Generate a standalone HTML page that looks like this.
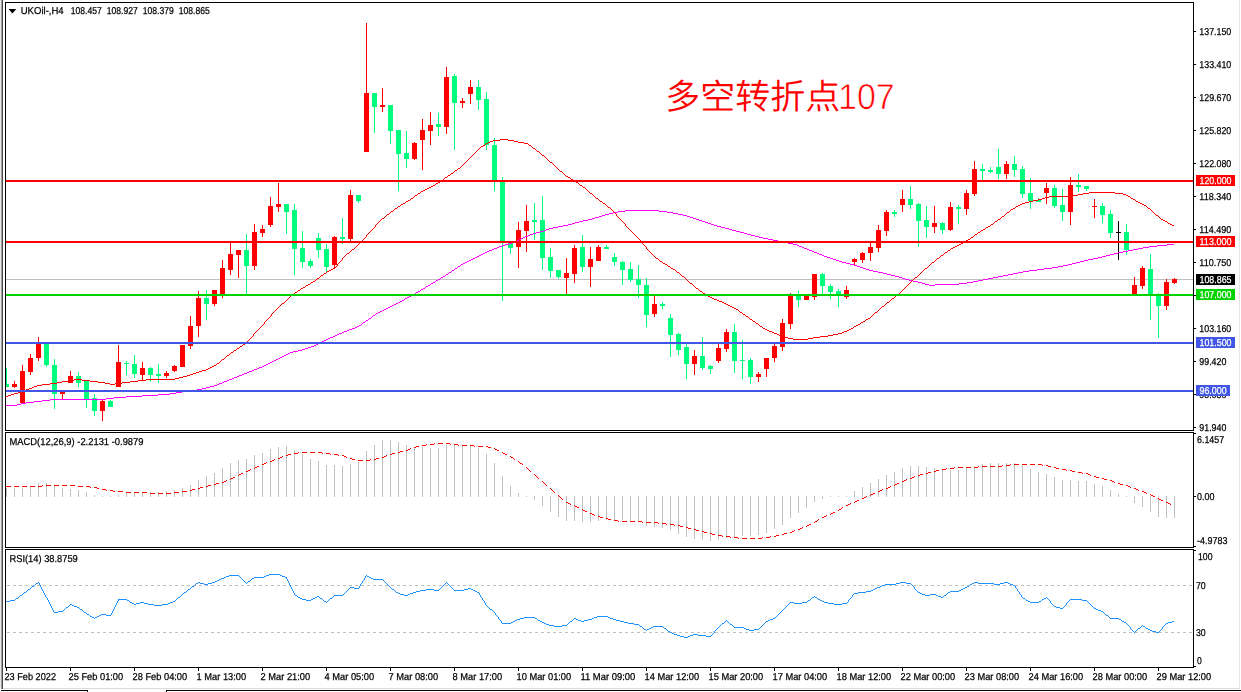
<!DOCTYPE html>
<html lang="zh"><head><meta charset="utf-8"><title>UKOil-,H4</title>
<style>html,body{margin:0;padding:0;background:#fff;overflow:hidden}svg{display:block}text{font-family:"Liberation Sans","Noto Sans CJK SC",sans-serif;font-size:10px;text-rendering:geometricPrecision;fill:#000;stroke:#000;stroke-width:0.25px}.w{fill:#fff;stroke:#fff}.cn{font-family:"Liberation Sans","Noto Sans CJK SC",sans-serif;font-weight:350;font-size:35px;fill:#ff0000;stroke:none}</style></head><body>
<svg width="1241" height="692" viewBox="0 0 1241 692">
<rect x="0" y="0" width="1241" height="692" fill="#ffffff"/>
<g shape-rendering="crispEdges">
<rect x="0" y="0" width="1" height="689" fill="#e9e9e9"/>
<rect x="1" y="0" width="1" height="689" fill="#a0a0a0"/>
<rect x="2" y="0" width="1" height="689" fill="#4a4a4a"/>
<rect x="1239" y="0" width="1" height="689" fill="#e4e4e4"/>
<rect x="3" y="688" width="1237" height="1" fill="#dcdcdc"/>
<rect x="1" y="690" width="87" height="1" fill="#000"/>
<rect x="87" y="690" width="1" height="2" fill="#000"/>
<rect x="166" y="690" width="1075" height="1" fill="#000"/>
<rect x="166" y="690" width="1" height="2" fill="#000"/>
<rect x="5" y="2" width="1189" height="1" fill="#000"/>
<rect x="5" y="430" width="1189" height="1" fill="#000"/>
<rect x="5" y="2" width="1" height="429" fill="#000"/>
<rect x="1193" y="2" width="1" height="429" fill="#000"/>
<rect x="5" y="432" width="1189" height="1" fill="#000"/>
<rect x="5" y="547" width="1189" height="1" fill="#000"/>
<rect x="5" y="432" width="1" height="116" fill="#000"/>
<rect x="1193" y="432" width="1" height="116" fill="#000"/>
<rect x="5" y="549" width="1189" height="1" fill="#000"/>
<rect x="5" y="667" width="1189" height="1" fill="#000"/>
<rect x="5" y="549" width="1" height="119" fill="#000"/>
<rect x="1193" y="549" width="1" height="119" fill="#000"/>
</g>
<g shape-rendering="crispEdges">
<rect x="6" y="279" width="1187" height="1" fill="#c0c0c0"/>
<rect x="6" y="368" width="1" height="19" fill="#00fc7c"/>
<rect x="6" y="384" width="3" height="3" fill="#00fc7c"/>
<rect x="14" y="381" width="1" height="7" fill="#ff0000"/>
<rect x="12" y="384" width="5" height="3" fill="#ff0000"/>
<rect x="22" y="365" width="1" height="38" fill="#ff0000"/>
<rect x="20" y="371" width="5" height="32" fill="#ff0000"/>
<rect x="30" y="354" width="1" height="21" fill="#ff0000"/>
<rect x="28" y="358" width="5" height="14" fill="#ff0000"/>
<rect x="38" y="337" width="1" height="24" fill="#ff0000"/>
<rect x="36" y="343" width="5" height="15" fill="#ff0000"/>
<rect x="46" y="344" width="1" height="23" fill="#00fc7c"/>
<rect x="44" y="344" width="5" height="21" fill="#00fc7c"/>
<rect x="54" y="359" width="1" height="50" fill="#00fc7c"/>
<rect x="52" y="365" width="5" height="29" fill="#00fc7c"/>
<rect x="62" y="392" width="1" height="7" fill="#ff0000"/>
<rect x="60" y="392" width="5" height="2" fill="#ff0000"/>
<rect x="70" y="371" width="1" height="12" fill="#ff0000"/>
<rect x="68" y="376" width="5" height="7" fill="#ff0000"/>
<rect x="78" y="372" width="1" height="15" fill="#00fc7c"/>
<rect x="76" y="376" width="5" height="7" fill="#00fc7c"/>
<rect x="86" y="381" width="1" height="27" fill="#00fc7c"/>
<rect x="84" y="381" width="5" height="18" fill="#00fc7c"/>
<rect x="94" y="394" width="1" height="22" fill="#00fc7c"/>
<rect x="92" y="398" width="5" height="13" fill="#00fc7c"/>
<rect x="102" y="400" width="1" height="21" fill="#ff0000"/>
<rect x="100" y="401" width="5" height="10" fill="#ff0000"/>
<rect x="110" y="400" width="1" height="7" fill="#00fc7c"/>
<rect x="108" y="401" width="5" height="6" fill="#00fc7c"/>
<rect x="118" y="345" width="1" height="42" fill="#ff0000"/>
<rect x="116" y="362" width="5" height="25" fill="#ff0000"/>
<rect x="126" y="361" width="1" height="14" fill="#00fc7c"/>
<rect x="124" y="363" width="5" height="1" fill="#00fc7c"/>
<rect x="134" y="355" width="1" height="23" fill="#00fc7c"/>
<rect x="132" y="364" width="5" height="10" fill="#00fc7c"/>
<rect x="142" y="362" width="1" height="18" fill="#ff0000"/>
<rect x="140" y="368" width="5" height="7" fill="#ff0000"/>
<rect x="150" y="367" width="1" height="15" fill="#00fc7c"/>
<rect x="148" y="368" width="5" height="7" fill="#00fc7c"/>
<rect x="158" y="364" width="1" height="19" fill="#00fc7c"/>
<rect x="156" y="374" width="5" height="2" fill="#00fc7c"/>
<rect x="166" y="371" width="1" height="7" fill="#ff0000"/>
<rect x="164" y="373" width="5" height="3" fill="#ff0000"/>
<rect x="174" y="365" width="1" height="7" fill="#ff0000"/>
<rect x="172" y="366" width="5" height="5" fill="#ff0000"/>
<rect x="182" y="345" width="1" height="22" fill="#ff0000"/>
<rect x="180" y="345" width="5" height="22" fill="#ff0000"/>
<rect x="190" y="316" width="1" height="33" fill="#ff0000"/>
<rect x="188" y="326" width="5" height="20" fill="#ff0000"/>
<rect x="198" y="291" width="1" height="46" fill="#ff0000"/>
<rect x="196" y="298" width="5" height="28" fill="#ff0000"/>
<rect x="206" y="290" width="1" height="30" fill="#00fc7c"/>
<rect x="204" y="298" width="5" height="6" fill="#00fc7c"/>
<rect x="214" y="290" width="1" height="16" fill="#ff0000"/>
<rect x="212" y="290" width="5" height="14" fill="#ff0000"/>
<rect x="222" y="260" width="1" height="38" fill="#ff0000"/>
<rect x="220" y="268" width="5" height="26" fill="#ff0000"/>
<rect x="230" y="243" width="1" height="32" fill="#ff0000"/>
<rect x="228" y="254" width="5" height="16" fill="#ff0000"/>
<rect x="238" y="250" width="1" height="28" fill="#ff0000"/>
<rect x="236" y="250" width="5" height="5" fill="#ff0000"/>
<rect x="246" y="234" width="1" height="60" fill="#00fc7c"/>
<rect x="244" y="250" width="5" height="16" fill="#00fc7c"/>
<rect x="254" y="224" width="1" height="46" fill="#ff0000"/>
<rect x="252" y="232" width="5" height="34" fill="#ff0000"/>
<rect x="262" y="225" width="1" height="12" fill="#ff0000"/>
<rect x="260" y="229" width="5" height="4" fill="#ff0000"/>
<rect x="270" y="197" width="1" height="30" fill="#ff0000"/>
<rect x="268" y="206" width="5" height="19" fill="#ff0000"/>
<rect x="278" y="183" width="1" height="29" fill="#ff0000"/>
<rect x="276" y="204" width="5" height="3" fill="#ff0000"/>
<rect x="286" y="204" width="1" height="30" fill="#00fc7c"/>
<rect x="284" y="204" width="5" height="8" fill="#00fc7c"/>
<rect x="294" y="204" width="1" height="71" fill="#00fc7c"/>
<rect x="292" y="210" width="5" height="39" fill="#00fc7c"/>
<rect x="302" y="231" width="1" height="37" fill="#00fc7c"/>
<rect x="300" y="248" width="5" height="14" fill="#00fc7c"/>
<rect x="310" y="259" width="1" height="9" fill="#00fc7c"/>
<rect x="308" y="261" width="5" height="5" fill="#00fc7c"/>
<rect x="318" y="233" width="1" height="25" fill="#00fc7c"/>
<rect x="316" y="238" width="5" height="12" fill="#00fc7c"/>
<rect x="326" y="244" width="1" height="28" fill="#00fc7c"/>
<rect x="324" y="249" width="5" height="18" fill="#00fc7c"/>
<rect x="334" y="236" width="1" height="33" fill="#ff0000"/>
<rect x="332" y="237" width="5" height="28" fill="#ff0000"/>
<rect x="342" y="218" width="1" height="26" fill="#00fc7c"/>
<rect x="340" y="237" width="5" height="2" fill="#00fc7c"/>
<rect x="350" y="190" width="1" height="51" fill="#ff0000"/>
<rect x="348" y="195" width="5" height="44" fill="#ff0000"/>
<rect x="358" y="195" width="1" height="8" fill="#00fc7c"/>
<rect x="356" y="195" width="5" height="6" fill="#00fc7c"/>
<rect x="366" y="23" width="1" height="129" fill="#ff0000"/>
<rect x="364" y="93" width="5" height="59" fill="#ff0000"/>
<rect x="374" y="93" width="1" height="40" fill="#00fc7c"/>
<rect x="372" y="93" width="5" height="14" fill="#00fc7c"/>
<rect x="382" y="88" width="1" height="24" fill="#ff0000"/>
<rect x="380" y="105" width="5" height="2" fill="#ff0000"/>
<rect x="390" y="105" width="1" height="39" fill="#00fc7c"/>
<rect x="388" y="105" width="5" height="26" fill="#00fc7c"/>
<rect x="398" y="130" width="1" height="61" fill="#00fc7c"/>
<rect x="396" y="130" width="5" height="24" fill="#00fc7c"/>
<rect x="406" y="131" width="1" height="37" fill="#00fc7c"/>
<rect x="404" y="153" width="5" height="6" fill="#00fc7c"/>
<rect x="414" y="142" width="1" height="18" fill="#ff0000"/>
<rect x="412" y="143" width="5" height="16" fill="#ff0000"/>
<rect x="422" y="119" width="1" height="51" fill="#ff0000"/>
<rect x="420" y="130" width="5" height="10" fill="#ff0000"/>
<rect x="430" y="112" width="1" height="33" fill="#ff0000"/>
<rect x="428" y="125" width="5" height="6" fill="#ff0000"/>
<rect x="438" y="113" width="1" height="23" fill="#00fc7c"/>
<rect x="436" y="124" width="5" height="3" fill="#00fc7c"/>
<rect x="446" y="67" width="1" height="67" fill="#ff0000"/>
<rect x="444" y="77" width="5" height="50" fill="#ff0000"/>
<rect x="454" y="74" width="1" height="76" fill="#00fc7c"/>
<rect x="452" y="76" width="5" height="27" fill="#00fc7c"/>
<rect x="462" y="98" width="1" height="10" fill="#ff0000"/>
<rect x="460" y="101" width="5" height="2" fill="#ff0000"/>
<rect x="470" y="80" width="1" height="24" fill="#ff0000"/>
<rect x="468" y="87" width="5" height="7" fill="#ff0000"/>
<rect x="478" y="80" width="1" height="30" fill="#00fc7c"/>
<rect x="476" y="87" width="5" height="13" fill="#00fc7c"/>
<rect x="486" y="92" width="1" height="58" fill="#00fc7c"/>
<rect x="484" y="99" width="5" height="46" fill="#00fc7c"/>
<rect x="494" y="138" width="1" height="53" fill="#00fc7c"/>
<rect x="492" y="145" width="5" height="35" fill="#00fc7c"/>
<rect x="502" y="177" width="1" height="124" fill="#00fc7c"/>
<rect x="500" y="181" width="5" height="62" fill="#00fc7c"/>
<rect x="510" y="243" width="1" height="11" fill="#00fc7c"/>
<rect x="508" y="243" width="5" height="5" fill="#00fc7c"/>
<rect x="518" y="222" width="1" height="46" fill="#ff0000"/>
<rect x="516" y="230" width="5" height="17" fill="#ff0000"/>
<rect x="526" y="205" width="1" height="47" fill="#ff0000"/>
<rect x="524" y="221" width="5" height="10" fill="#ff0000"/>
<rect x="534" y="203" width="1" height="37" fill="#00fc7c"/>
<rect x="532" y="220" width="5" height="2" fill="#00fc7c"/>
<rect x="542" y="196" width="1" height="74" fill="#00fc7c"/>
<rect x="540" y="220" width="5" height="38" fill="#00fc7c"/>
<rect x="550" y="248" width="1" height="30" fill="#00fc7c"/>
<rect x="548" y="257" width="5" height="14" fill="#00fc7c"/>
<rect x="558" y="270" width="1" height="9" fill="#00fc7c"/>
<rect x="556" y="270" width="5" height="7" fill="#00fc7c"/>
<rect x="566" y="258" width="1" height="36" fill="#ff0000"/>
<rect x="564" y="273" width="5" height="5" fill="#ff0000"/>
<rect x="574" y="245" width="1" height="38" fill="#ff0000"/>
<rect x="572" y="248" width="5" height="26" fill="#ff0000"/>
<rect x="582" y="235" width="1" height="37" fill="#00fc7c"/>
<rect x="580" y="247" width="5" height="20" fill="#00fc7c"/>
<rect x="590" y="247" width="1" height="40" fill="#ff0000"/>
<rect x="588" y="259" width="5" height="8" fill="#ff0000"/>
<rect x="598" y="245" width="1" height="16" fill="#ff0000"/>
<rect x="596" y="247" width="5" height="14" fill="#ff0000"/>
<rect x="606" y="245" width="1" height="4" fill="#00fc7c"/>
<rect x="604" y="247" width="5" height="2" fill="#00fc7c"/>
<rect x="614" y="253" width="1" height="13" fill="#00fc7c"/>
<rect x="612" y="257" width="5" height="5" fill="#00fc7c"/>
<rect x="622" y="261" width="1" height="24" fill="#00fc7c"/>
<rect x="620" y="262" width="5" height="8" fill="#00fc7c"/>
<rect x="630" y="262" width="1" height="20" fill="#00fc7c"/>
<rect x="628" y="269" width="5" height="11" fill="#00fc7c"/>
<rect x="638" y="265" width="1" height="33" fill="#00fc7c"/>
<rect x="636" y="279" width="5" height="6" fill="#00fc7c"/>
<rect x="646" y="278" width="1" height="49" fill="#00fc7c"/>
<rect x="644" y="285" width="5" height="30" fill="#00fc7c"/>
<rect x="654" y="296" width="1" height="21" fill="#ff0000"/>
<rect x="652" y="304" width="5" height="10" fill="#ff0000"/>
<rect x="662" y="302" width="1" height="7" fill="#00fc7c"/>
<rect x="660" y="304" width="5" height="2" fill="#00fc7c"/>
<rect x="670" y="314" width="1" height="43" fill="#00fc7c"/>
<rect x="668" y="318" width="5" height="17" fill="#00fc7c"/>
<rect x="678" y="333" width="1" height="22" fill="#00fc7c"/>
<rect x="676" y="334" width="5" height="16" fill="#00fc7c"/>
<rect x="686" y="344" width="1" height="35" fill="#00fc7c"/>
<rect x="684" y="347" width="5" height="17" fill="#00fc7c"/>
<rect x="694" y="350" width="1" height="25" fill="#ff0000"/>
<rect x="692" y="356" width="5" height="8" fill="#ff0000"/>
<rect x="702" y="337" width="1" height="33" fill="#00fc7c"/>
<rect x="700" y="356" width="5" height="12" fill="#00fc7c"/>
<rect x="710" y="365" width="1" height="9" fill="#00fc7c"/>
<rect x="708" y="366" width="5" height="3" fill="#00fc7c"/>
<rect x="718" y="344" width="1" height="19" fill="#ff0000"/>
<rect x="716" y="348" width="5" height="13" fill="#ff0000"/>
<rect x="726" y="329" width="1" height="23" fill="#ff0000"/>
<rect x="724" y="332" width="5" height="17" fill="#ff0000"/>
<rect x="734" y="324" width="1" height="49" fill="#00fc7c"/>
<rect x="732" y="332" width="5" height="29" fill="#00fc7c"/>
<rect x="742" y="340" width="1" height="39" fill="#00fc7c"/>
<rect x="740" y="360" width="5" height="1" fill="#00fc7c"/>
<rect x="750" y="358" width="1" height="26" fill="#00fc7c"/>
<rect x="748" y="360" width="5" height="17" fill="#00fc7c"/>
<rect x="758" y="372" width="1" height="10" fill="#ff0000"/>
<rect x="756" y="374" width="5" height="3" fill="#ff0000"/>
<rect x="766" y="358" width="1" height="19" fill="#ff0000"/>
<rect x="764" y="358" width="5" height="11" fill="#ff0000"/>
<rect x="774" y="344" width="1" height="18" fill="#ff0000"/>
<rect x="772" y="346" width="5" height="12" fill="#ff0000"/>
<rect x="782" y="319" width="1" height="32" fill="#ff0000"/>
<rect x="780" y="323" width="5" height="24" fill="#ff0000"/>
<rect x="790" y="293" width="1" height="36" fill="#ff0000"/>
<rect x="788" y="295" width="5" height="29" fill="#ff0000"/>
<rect x="798" y="291" width="1" height="16" fill="#00fc7c"/>
<rect x="796" y="296" width="5" height="4" fill="#00fc7c"/>
<rect x="806" y="296" width="1" height="4" fill="#ff0000"/>
<rect x="804" y="296" width="5" height="4" fill="#ff0000"/>
<rect x="814" y="274" width="1" height="26" fill="#ff0000"/>
<rect x="812" y="274" width="5" height="23" fill="#ff0000"/>
<rect x="822" y="273" width="1" height="22" fill="#00fc7c"/>
<rect x="820" y="274" width="5" height="12" fill="#00fc7c"/>
<rect x="830" y="284" width="1" height="15" fill="#00fc7c"/>
<rect x="828" y="286" width="5" height="6" fill="#00fc7c"/>
<rect x="838" y="289" width="1" height="18" fill="#00fc7c"/>
<rect x="836" y="291" width="5" height="4" fill="#00fc7c"/>
<rect x="846" y="286" width="1" height="13" fill="#ff0000"/>
<rect x="844" y="290" width="5" height="7" fill="#ff0000"/>
<rect x="854" y="258" width="1" height="7" fill="#ff0000"/>
<rect x="852" y="259" width="5" height="3" fill="#ff0000"/>
<rect x="862" y="252" width="1" height="11" fill="#ff0000"/>
<rect x="860" y="253" width="5" height="7" fill="#ff0000"/>
<rect x="870" y="243" width="1" height="18" fill="#ff0000"/>
<rect x="868" y="247" width="5" height="6" fill="#ff0000"/>
<rect x="878" y="225" width="1" height="27" fill="#ff0000"/>
<rect x="876" y="230" width="5" height="18" fill="#ff0000"/>
<rect x="886" y="210" width="1" height="26" fill="#ff0000"/>
<rect x="884" y="212" width="5" height="19" fill="#ff0000"/>
<rect x="894" y="210" width="1" height="7" fill="#00fc7c"/>
<rect x="892" y="212" width="5" height="2" fill="#00fc7c"/>
<rect x="902" y="190" width="1" height="22" fill="#ff0000"/>
<rect x="900" y="199" width="5" height="6" fill="#ff0000"/>
<rect x="910" y="186" width="1" height="23" fill="#00fc7c"/>
<rect x="908" y="199" width="5" height="6" fill="#00fc7c"/>
<rect x="918" y="203" width="1" height="44" fill="#00fc7c"/>
<rect x="916" y="204" width="5" height="17" fill="#00fc7c"/>
<rect x="926" y="206" width="1" height="32" fill="#00fc7c"/>
<rect x="924" y="220" width="5" height="7" fill="#00fc7c"/>
<rect x="934" y="206" width="1" height="27" fill="#ff0000"/>
<rect x="932" y="223" width="5" height="4" fill="#ff0000"/>
<rect x="942" y="222" width="1" height="12" fill="#00fc7c"/>
<rect x="940" y="223" width="5" height="7" fill="#00fc7c"/>
<rect x="950" y="202" width="1" height="29" fill="#ff0000"/>
<rect x="948" y="207" width="5" height="23" fill="#ff0000"/>
<rect x="958" y="205" width="1" height="19" fill="#00fc7c"/>
<rect x="956" y="207" width="5" height="2" fill="#00fc7c"/>
<rect x="966" y="190" width="1" height="25" fill="#ff0000"/>
<rect x="964" y="193" width="5" height="16" fill="#ff0000"/>
<rect x="974" y="161" width="1" height="35" fill="#ff0000"/>
<rect x="972" y="169" width="5" height="25" fill="#ff0000"/>
<rect x="982" y="164" width="1" height="16" fill="#00fc7c"/>
<rect x="980" y="169" width="5" height="2" fill="#00fc7c"/>
<rect x="990" y="167" width="1" height="6" fill="#00fc7c"/>
<rect x="988" y="170" width="5" height="2" fill="#00fc7c"/>
<rect x="998" y="149" width="1" height="30" fill="#00fc7c"/>
<rect x="996" y="167" width="5" height="7" fill="#00fc7c"/>
<rect x="1006" y="161" width="1" height="18" fill="#ff0000"/>
<rect x="1004" y="164" width="5" height="10" fill="#ff0000"/>
<rect x="1014" y="156" width="1" height="21" fill="#00fc7c"/>
<rect x="1012" y="164" width="5" height="6" fill="#00fc7c"/>
<rect x="1022" y="166" width="1" height="32" fill="#00fc7c"/>
<rect x="1020" y="169" width="5" height="25" fill="#00fc7c"/>
<rect x="1030" y="178" width="1" height="31" fill="#00fc7c"/>
<rect x="1028" y="193" width="5" height="8" fill="#00fc7c"/>
<rect x="1038" y="198" width="1" height="4" fill="#00fc7c"/>
<rect x="1036" y="200" width="5" height="2" fill="#00fc7c"/>
<rect x="1046" y="183" width="1" height="21" fill="#ff0000"/>
<rect x="1044" y="188" width="5" height="5" fill="#ff0000"/>
<rect x="1054" y="185" width="1" height="23" fill="#00fc7c"/>
<rect x="1052" y="188" width="5" height="18" fill="#00fc7c"/>
<rect x="1062" y="189" width="1" height="32" fill="#00fc7c"/>
<rect x="1060" y="205" width="5" height="7" fill="#00fc7c"/>
<rect x="1070" y="177" width="1" height="48" fill="#ff0000"/>
<rect x="1068" y="185" width="5" height="27" fill="#ff0000"/>
<rect x="1078" y="174" width="1" height="18" fill="#00fc7c"/>
<rect x="1076" y="185" width="5" height="2" fill="#00fc7c"/>
<rect x="1086" y="186" width="1" height="5" fill="#00fc7c"/>
<rect x="1084" y="186" width="5" height="3" fill="#00fc7c"/>
<rect x="1094" y="199" width="1" height="19" fill="#ff0000"/>
<rect x="1092" y="206" width="5" height="1" fill="#ff0000"/>
<rect x="1102" y="203" width="1" height="20" fill="#00fc7c"/>
<rect x="1100" y="206" width="5" height="9" fill="#00fc7c"/>
<rect x="1110" y="210" width="1" height="28" fill="#00fc7c"/>
<rect x="1108" y="214" width="5" height="19" fill="#00fc7c"/>
<rect x="1118" y="221" width="1" height="39" fill="#000000"/>
<rect x="1116" y="232" width="5" height="1" fill="#000000"/>
<rect x="1126" y="224" width="1" height="31" fill="#00fc7c"/>
<rect x="1124" y="232" width="5" height="18" fill="#00fc7c"/>
<rect x="1134" y="277" width="1" height="17" fill="#ff0000"/>
<rect x="1132" y="285" width="5" height="9" fill="#ff0000"/>
<rect x="1142" y="266" width="1" height="23" fill="#ff0000"/>
<rect x="1140" y="268" width="5" height="18" fill="#ff0000"/>
<rect x="1150" y="254" width="1" height="66" fill="#00fc7c"/>
<rect x="1148" y="269" width="5" height="25" fill="#00fc7c"/>
<rect x="1158" y="293" width="1" height="45" fill="#00fc7c"/>
<rect x="1156" y="294" width="5" height="12" fill="#00fc7c"/>
<rect x="1166" y="279" width="1" height="31" fill="#ff0000"/>
<rect x="1164" y="282" width="5" height="24" fill="#ff0000"/>
<rect x="1174" y="278" width="1" height="6" fill="#ff0000"/>
<rect x="1172" y="279" width="5" height="4" fill="#ff0000"/>
</g>
<path d="M625 210h34v1h-34zM618 211h7v1h-7zM659 211h8v1h-8zM613 212h5v1h-5zM667 212h6v1h-6zM609 213h4v1h-4zM673 213h5v1h-5zM605 214h4v1h-4zM678 214h5v1h-5zM602 215h3v1h-3zM683 215h4v1h-4zM599 216h3v1h-3zM687 216h3v1h-3zM595 217h4v1h-4zM690 217h3v1h-3zM592 218h3v1h-3zM693 218h3v1h-3zM588 219h4v1h-4zM696 219h3v1h-3zM583 220h5v1h-5zM699 220h3v1h-3zM579 221h4v1h-4zM702 221h3v1h-3zM575 222h4v1h-4zM705 222h3v1h-3zM572 223h3v1h-3zM708 223h3v1h-3zM568 224h4v1h-4zM711 224h3v1h-3zM563 225h5v1h-5zM714 225h3v1h-3zM558 226h5v1h-5zM717 226h4v1h-4zM553 227h5v1h-5zM721 227h4v1h-4zM549 228h4v1h-4zM725 228h4v1h-4zM546 229h3v1h-3zM729 229h3v1h-3zM544 230h2v1h-2zM732 230h4v1h-4zM540 231h4v1h-4zM736 231h4v1h-4zM536 232h4v1h-4zM740 232h4v1h-4zM533 233h3v1h-3zM744 233h3v1h-3zM530 234h3v1h-3zM747 234h4v1h-4zM528 235h2v1h-2zM751 235h4v1h-4zM525 236h3v1h-3zM755 236h4v1h-4zM523 237h2v1h-2zM759 237h4v1h-4zM521 238h2v1h-2zM763 238h5v1h-5zM519 239h2v1h-2zM768 239h5v1h-5zM517 240h2v1h-2zM773 240h5v1h-5zM514 241h3v1h-3zM778 241h5v1h-5zM512 242h2v1h-2zM783 242h5v1h-5zM509 243h3v1h-3zM788 243h5v1h-5zM505 244h4v1h-4zM793 244h4v1h-4zM1167 244h7v1h-7zM502 245h3v1h-3zM797 245h2v1h-2zM1157 245h10v1h-10zM499 246h3v1h-3zM799 246h3v1h-3zM1149 246h8v1h-8zM497 247h2v1h-2zM802 247h2v1h-2zM1143 247h6v1h-6zM494 248h3v1h-3zM804 248h3v1h-3zM1138 248h5v1h-5zM492 249h2v1h-2zM807 249h2v1h-2zM1133 249h5v1h-5zM489 250h3v1h-3zM809 250h3v1h-3zM1128 250h5v1h-5zM487 251h2v1h-2zM812 251h2v1h-2zM1123 251h5v1h-5zM485 252h2v1h-2zM814 252h3v1h-3zM1118 252h5v1h-5zM483 253h2v1h-2zM817 253h2v1h-2zM1114 253h4v1h-4zM481 254h2v1h-2zM819 254h3v1h-3zM1110 254h4v1h-4zM479 255h2v1h-2zM822 255h2v1h-2zM1106 255h4v1h-4zM477 256h2v1h-2zM824 256h3v1h-3zM1102 256h4v1h-4zM475 257h2v1h-2zM827 257h3v1h-3zM1098 257h4v1h-4zM473 258h2v1h-2zM830 258h3v1h-3zM1093 258h5v1h-5zM471 259h2v1h-2zM833 259h3v1h-3zM1088 259h5v1h-5zM469 260h2v1h-2zM836 260h3v1h-3zM1084 260h4v1h-4zM467 261h2v1h-2zM839 261h3v1h-3zM1080 261h4v1h-4zM465 262h2v1h-2zM842 262h4v1h-4zM1076 262h4v1h-4zM463 263h2v1h-2zM846 263h4v1h-4zM1072 263h4v1h-4zM461 264h2v1h-2zM850 264h4v1h-4zM1068 264h4v1h-4zM460 265h1v1h-1zM854 265h3v1h-3zM1063 265h5v1h-5zM458 266h2v1h-2zM857 266h3v1h-3zM1058 266h5v1h-5zM457 267h1v1h-1zM860 267h3v1h-3zM1052 267h6v1h-6zM455 268h2v1h-2zM863 268h3v1h-3zM1044 268h8v1h-8zM454 269h1v1h-1zM866 269h3v1h-3zM1037 269h7v1h-7zM452 270h2v1h-2zM869 270h4v1h-4zM1029 270h8v1h-8zM451 271h1v1h-1zM873 271h5v1h-5zM1023 271h6v1h-6zM449 272h2v1h-2zM878 272h5v1h-5zM1018 272h5v1h-5zM448 273h1v1h-1zM883 273h4v1h-4zM1013 273h5v1h-5zM446 274h2v1h-2zM887 274h4v1h-4zM1008 274h5v1h-5zM445 275h1v1h-1zM891 275h4v1h-4zM1003 275h5v1h-5zM443 276h2v1h-2zM895 276h4v1h-4zM998 276h5v1h-5zM441 277h2v1h-2zM899 277h3v1h-3zM993 277h5v1h-5zM440 278h1v1h-1zM902 278h3v1h-3zM988 278h5v1h-5zM438 279h2v1h-2zM905 279h4v1h-4zM983 279h5v1h-5zM436 280h2v1h-2zM909 280h4v1h-4zM978 280h5v1h-5zM435 281h1v1h-1zM913 281h5v1h-5zM973 281h5v1h-5zM433 282h2v1h-2zM918 282h4v1h-4zM967 282h6v1h-6zM431 283h2v1h-2zM922 283h3v1h-3zM959 283h8v1h-8zM430 284h1v1h-1zM925 284h4v1h-4zM935 284h24v1h-24zM428 285h2v1h-2zM929 285h6v1h-6zM426 286h2v1h-2zM425 287h1v1h-1zM423 288h2v1h-2zM421 289h2v1h-2zM420 290h1v1h-1zM418 291h2v1h-2zM416 292h2v1h-2zM415 293h1v1h-1zM413 294h2v1h-2zM411 295h2v1h-2zM409 296h2v1h-2zM407 297h2v1h-2zM405 298h2v1h-2zM404 299h1v1h-1zM402 300h2v1h-2zM400 301h2v1h-2zM398 302h2v1h-2zM396 303h2v1h-2zM394 304h2v1h-2zM392 305h2v1h-2zM390 306h2v1h-2zM388 307h2v1h-2zM386 308h2v1h-2zM384 309h2v1h-2zM382 310h2v1h-2zM380 311h2v1h-2zM378 312h2v1h-2zM376 313h2v1h-2zM375 314h1v1h-1zM373 315h2v1h-2zM372 316h1v1h-1zM371 317h1v1h-1zM369 318h2v1h-2zM368 319h1v1h-1zM366 320h2v1h-2zM365 321h1v1h-1zM363 322h2v1h-2zM362 323h1v1h-1zM361 324h1v1h-1zM359 325h2v1h-2zM357 326h2v1h-2zM355 327h2v1h-2zM352 328h3v1h-3zM349 329h3v1h-3zM347 330h2v1h-2zM344 331h3v1h-3zM342 332h2v1h-2zM339 333h3v1h-3zM337 334h2v1h-2zM335 335h2v1h-2zM333 336h2v1h-2zM330 337h3v1h-3zM328 338h2v1h-2zM326 339h2v1h-2zM324 340h2v1h-2zM322 341h2v1h-2zM320 342h2v1h-2zM318 343h2v1h-2zM316 344h2v1h-2zM314 345h2v1h-2zM311 346h3v1h-3zM308 347h3v1h-3zM305 348h3v1h-3zM302 349h3v1h-3zM298 350h4v1h-4zM293 351h5v1h-5zM290 352h3v1h-3zM288 353h2v1h-2zM286 354h2v1h-2zM284 355h2v1h-2zM282 356h2v1h-2zM280 357h2v1h-2zM278 358h2v1h-2zM276 359h2v1h-2zM274 360h2v1h-2zM272 361h2v1h-2zM270 362h2v1h-2zM268 363h2v1h-2zM266 364h2v1h-2zM264 365h2v1h-2zM262 366h2v1h-2zM259 367h3v1h-3zM257 368h2v1h-2zM254 369h3v1h-3zM252 370h2v1h-2zM249 371h3v1h-3zM247 372h2v1h-2zM244 373h3v1h-3zM242 374h2v1h-2zM239 375h3v1h-3zM237 376h2v1h-2zM234 377h3v1h-3zM232 378h2v1h-2zM229 379h3v1h-3zM227 380h2v1h-2zM224 381h3v1h-3zM222 382h2v1h-2zM219 383h3v1h-3zM217 384h2v1h-2zM214 385h3v1h-3zM210 386h4v1h-4zM206 387h4v1h-4zM202 388h4v1h-4zM197 389h5v1h-5zM189 390h8v1h-8zM182 391h7v1h-7zM176 392h6v1h-6zM170 393h6v1h-6zM158 394h12v1h-12zM142 395h16v1h-16zM126 396h16v1h-16zM114 397h12v1h-12zM106 398h8v1h-8zM50 399h56v1h-56zM42 400h8v1h-8zM34 401h8v1h-8zM26 402h8v1h-8zM21 403h5v1h-5zM17 404h4v1h-4zM6 405h11v1h-11z" fill="#ff00ff" shape-rendering="crispEdges"/>
<path d="M500 139h8v1h-8zM493 140h7v1h-7zM508 140h6v1h-6zM490 141h3v1h-3zM514 141h4v1h-4zM488 142h2v1h-2zM518 142h6v1h-6zM486 143h2v1h-2zM524 143h4v1h-4zM485 144h1v1h-1zM528 144h1v1h-1zM483 145h2v1h-2zM529 145h2v1h-2zM481 146h2v1h-2zM531 146h1v1h-1zM480 147h1v1h-1zM532 147h1v1h-1zM479 148h1v1h-1zM533 148h2v1h-2zM478 149h1v1h-1zM535 149h1v1h-1zM477 150h1v1h-1zM536 150h1v1h-1zM476 151h1v1h-1zM537 151h2v1h-2zM475 152h1v1h-1zM539 152h1v1h-1zM474 153h1v1h-1zM540 153h1v1h-1zM473 154h1v1h-1zM541 154h1v1h-1zM472 155h1v1h-1zM542 155h2v1h-2zM471 156h1v1h-1zM544 156h1v1h-1zM470 157h1v1h-1zM545 157h1v1h-1zM469 158h1v1h-1zM546 158h1v1h-1zM468 159h1v1h-1zM547 159h1v1h-1zM467 160h1v1h-1zM548 160h1v1h-1zM466 161h1v1h-1zM549 161h1v1h-1zM465 162h1v1h-1zM550 162h2v1h-2zM464 163h1v1h-1zM552 163h1v1h-1zM463 164h1v1h-1zM553 164h1v1h-1zM462 165h1v1h-1zM554 165h1v1h-1zM461 166h1v1h-1zM555 166h1v1h-1zM460 167h1v1h-1zM556 167h1v1h-1zM458 168h2v1h-2zM557 168h1v1h-1zM457 169h1v1h-1zM558 169h1v1h-1zM455 170h2v1h-2zM559 170h1v1h-1zM454 171h1v1h-1zM560 171h2v1h-2zM453 172h1v1h-1zM562 172h1v1h-1zM451 173h2v1h-2zM563 173h1v1h-1zM450 174h1v1h-1zM564 174h1v1h-1zM448 175h2v1h-2zM565 175h1v1h-1zM447 176h1v1h-1zM566 176h2v1h-2zM445 177h2v1h-2zM568 177h2v1h-2zM444 178h1v1h-1zM570 178h1v1h-1zM443 179h1v1h-1zM571 179h2v1h-2zM441 180h2v1h-2zM573 180h2v1h-2zM440 181h1v1h-1zM575 181h1v1h-1zM438 182h2v1h-2zM576 182h2v1h-2zM436 183h2v1h-2zM578 183h1v1h-1zM435 184h1v1h-1zM579 184h1v1h-1zM433 185h2v1h-2zM580 185h2v1h-2zM431 186h2v1h-2zM582 186h1v1h-1zM429 187h2v1h-2zM583 187h2v1h-2zM427 188h2v1h-2zM585 188h1v1h-1zM425 189h2v1h-2zM586 189h1v1h-1zM423 190h2v1h-2zM587 190h1v1h-1zM421 191h2v1h-2zM588 191h1v1h-1zM420 192h1v1h-1zM589 192h1v1h-1zM1089 192h26v1h-26zM418 193h2v1h-2zM590 193h2v1h-2zM1083 193h6v1h-6zM1115 193h8v1h-8zM417 194h1v1h-1zM592 194h1v1h-1zM1078 194h5v1h-5zM1123 194h3v1h-3zM415 195h2v1h-2zM593 195h1v1h-1zM1070 195h8v1h-8zM1126 195h2v1h-2zM414 196h1v1h-1zM594 196h1v1h-1zM1049 196h21v1h-21zM1128 196h2v1h-2zM413 197h1v1h-1zM595 197h1v1h-1zM1045 197h4v1h-4zM1130 197h1v1h-1zM411 198h2v1h-2zM596 198h2v1h-2zM1042 198h3v1h-3zM1131 198h2v1h-2zM410 199h1v1h-1zM598 199h1v1h-1zM1038 199h4v1h-4zM1133 199h2v1h-2zM408 200h2v1h-2zM599 200h1v1h-1zM1033 200h5v1h-5zM1135 200h1v1h-1zM406 201h2v1h-2zM600 201h2v1h-2zM1029 201h4v1h-4zM1136 201h2v1h-2zM405 202h1v1h-1zM602 202h1v1h-1zM1025 202h4v1h-4zM1138 202h2v1h-2zM403 203h2v1h-2zM603 203h2v1h-2zM1022 203h3v1h-3zM1140 203h2v1h-2zM401 204h2v1h-2zM605 204h1v1h-1zM1020 204h2v1h-2zM1142 204h2v1h-2zM400 205h1v1h-1zM606 205h1v1h-1zM1018 205h2v1h-2zM1144 205h2v1h-2zM398 206h2v1h-2zM607 206h1v1h-1zM1016 206h2v1h-2zM1146 206h1v1h-1zM397 207h1v1h-1zM608 207h2v1h-2zM1015 207h1v1h-1zM1147 207h1v1h-1zM395 208h2v1h-2zM610 208h1v1h-1zM1013 208h2v1h-2zM1148 208h2v1h-2zM394 209h1v1h-1zM611 209h1v1h-1zM1011 209h2v1h-2zM1150 209h1v1h-1zM393 210h1v1h-1zM612 210h1v1h-1zM1010 210h1v1h-1zM1151 210h1v1h-1zM391 211h2v1h-2zM613 211h1v1h-1zM1009 211h1v1h-1zM1152 211h1v1h-1zM390 212h1v1h-1zM614 212h1v1h-1zM1007 212h2v1h-2zM1153 212h1v1h-1zM389 213h1v1h-1zM615 213h1v1h-1zM1006 213h1v1h-1zM1154 213h1v1h-1zM387 214h2v1h-2zM616 214h1v1h-1zM1005 214h1v1h-1zM1155 214h1v1h-1zM386 215h1v1h-1zM616 215h1v1h-1zM1004 215h1v1h-1zM1156 215h2v1h-2zM385 216h1v1h-1zM617 216h1v1h-1zM1002 216h2v1h-2zM1158 216h1v1h-1zM384 217h1v1h-1zM618 217h1v1h-1zM1001 217h1v1h-1zM1159 217h1v1h-1zM382 218h2v1h-2zM619 218h1v1h-1zM1000 218h1v1h-1zM1160 218h1v1h-1zM381 219h1v1h-1zM620 219h1v1h-1zM998 219h2v1h-2zM1161 219h2v1h-2zM380 220h1v1h-1zM621 220h1v1h-1zM997 220h1v1h-1zM1163 220h2v1h-2zM379 221h1v1h-1zM622 221h1v1h-1zM995 221h2v1h-2zM1165 221h2v1h-2zM378 222h1v1h-1zM623 222h1v1h-1zM994 222h1v1h-1zM1167 222h1v1h-1zM377 223h1v1h-1zM624 223h1v1h-1zM993 223h1v1h-1zM1168 223h2v1h-2zM376 224h1v1h-1zM625 224h1v1h-1zM991 224h2v1h-2zM1170 224h2v1h-2zM375 225h1v1h-1zM625 225h1v1h-1zM990 225h1v1h-1zM1172 225h2v1h-2zM375 226h1v1h-1zM626 226h1v1h-1zM988 226h2v1h-2zM374 227h1v1h-1zM627 227h1v1h-1zM986 227h2v1h-2zM373 228h1v1h-1zM628 228h1v1h-1zM985 228h1v1h-1zM372 229h1v1h-1zM629 229h1v1h-1zM983 229h2v1h-2zM371 230h1v1h-1zM630 230h1v1h-1zM981 230h2v1h-2zM370 231h1v1h-1zM631 231h1v1h-1zM980 231h1v1h-1zM369 232h1v1h-1zM632 232h1v1h-1zM978 232h2v1h-2zM368 233h1v1h-1zM633 233h1v1h-1zM977 233h1v1h-1zM367 234h1v1h-1zM634 234h1v1h-1zM975 234h2v1h-2zM366 235h1v1h-1zM635 235h1v1h-1zM974 235h1v1h-1zM366 236h1v1h-1zM636 236h1v1h-1zM973 236h1v1h-1zM365 237h1v1h-1zM637 237h1v1h-1zM971 237h2v1h-2zM364 238h1v1h-1zM638 238h1v1h-1zM970 238h1v1h-1zM363 239h1v1h-1zM639 239h1v1h-1zM968 239h2v1h-2zM362 240h1v1h-1zM640 240h1v1h-1zM966 240h2v1h-2zM361 241h1v1h-1zM641 241h1v1h-1zM965 241h1v1h-1zM360 242h1v1h-1zM642 242h1v1h-1zM963 242h2v1h-2zM359 243h1v1h-1zM642 243h1v1h-1zM961 243h2v1h-2zM358 244h1v1h-1zM643 244h1v1h-1zM959 244h2v1h-2zM357 245h1v1h-1zM644 245h1v1h-1zM957 245h2v1h-2zM356 246h1v1h-1zM645 246h1v1h-1zM955 246h2v1h-2zM355 247h1v1h-1zM646 247h1v1h-1zM953 247h2v1h-2zM354 248h1v1h-1zM646 248h1v1h-1zM951 248h2v1h-2zM352 249h2v1h-2zM647 249h1v1h-1zM950 249h1v1h-1zM351 250h1v1h-1zM648 250h1v1h-1zM948 250h2v1h-2zM350 251h1v1h-1zM649 251h1v1h-1zM947 251h1v1h-1zM349 252h1v1h-1zM650 252h1v1h-1zM945 252h2v1h-2zM347 253h2v1h-2zM651 253h1v1h-1zM944 253h1v1h-1zM346 254h1v1h-1zM652 254h1v1h-1zM943 254h1v1h-1zM345 255h1v1h-1zM653 255h1v1h-1zM941 255h2v1h-2zM344 256h1v1h-1zM654 256h1v1h-1zM940 256h1v1h-1zM343 257h1v1h-1zM655 257h1v1h-1zM939 257h1v1h-1zM342 258h1v1h-1zM656 258h2v1h-2zM937 258h2v1h-2zM342 259h1v1h-1zM658 259h1v1h-1zM936 259h1v1h-1zM341 260h1v1h-1zM659 260h1v1h-1zM935 260h1v1h-1zM340 261h1v1h-1zM660 261h2v1h-2zM934 261h1v1h-1zM339 262h1v1h-1zM662 262h1v1h-1zM932 262h2v1h-2zM338 263h1v1h-1zM663 263h2v1h-2zM931 263h1v1h-1zM337 264h1v1h-1zM665 264h2v1h-2zM930 264h1v1h-1zM337 265h1v1h-1zM667 265h1v1h-1zM929 265h1v1h-1zM336 266h1v1h-1zM668 266h2v1h-2zM928 266h1v1h-1zM335 267h1v1h-1zM670 267h1v1h-1zM927 267h1v1h-1zM333 268h2v1h-2zM671 268h2v1h-2zM925 268h2v1h-2zM331 269h2v1h-2zM673 269h2v1h-2zM924 269h1v1h-1zM329 270h2v1h-2zM675 270h1v1h-1zM923 270h1v1h-1zM327 271h2v1h-2zM676 271h1v1h-1zM922 271h1v1h-1zM326 272h1v1h-1zM677 272h2v1h-2zM921 272h1v1h-1zM324 273h2v1h-2zM679 273h1v1h-1zM920 273h1v1h-1zM323 274h1v1h-1zM680 274h1v1h-1zM919 274h1v1h-1zM321 275h2v1h-2zM681 275h1v1h-1zM918 275h1v1h-1zM320 276h1v1h-1zM682 276h2v1h-2zM917 276h1v1h-1zM319 277h1v1h-1zM684 277h1v1h-1zM915 277h2v1h-2zM317 278h2v1h-2zM685 278h1v1h-1zM914 278h1v1h-1zM316 279h1v1h-1zM686 279h1v1h-1zM913 279h1v1h-1zM315 280h1v1h-1zM687 280h1v1h-1zM912 280h1v1h-1zM313 281h2v1h-2zM688 281h1v1h-1zM911 281h1v1h-1zM311 282h2v1h-2zM689 282h1v1h-1zM910 282h1v1h-1zM310 283h1v1h-1zM690 283h2v1h-2zM909 283h1v1h-1zM308 284h2v1h-2zM692 284h1v1h-1zM908 284h1v1h-1zM306 285h2v1h-2zM693 285h1v1h-1zM907 285h1v1h-1zM305 286h1v1h-1zM694 286h1v1h-1zM906 286h1v1h-1zM303 287h2v1h-2zM695 287h1v1h-1zM905 287h1v1h-1zM301 288h2v1h-2zM696 288h2v1h-2zM904 288h1v1h-1zM300 289h1v1h-1zM698 289h1v1h-1zM903 289h1v1h-1zM298 290h2v1h-2zM699 290h1v1h-1zM902 290h1v1h-1zM297 291h1v1h-1zM700 291h2v1h-2zM901 291h1v1h-1zM295 292h2v1h-2zM702 292h1v1h-1zM900 292h1v1h-1zM294 293h1v1h-1zM703 293h2v1h-2zM899 293h1v1h-1zM293 294h1v1h-1zM705 294h1v1h-1zM897 294h2v1h-2zM291 295h2v1h-2zM706 295h2v1h-2zM896 295h1v1h-1zM290 296h1v1h-1zM708 296h2v1h-2zM895 296h1v1h-1zM289 297h1v1h-1zM710 297h2v1h-2zM894 297h1v1h-1zM288 298h1v1h-1zM712 298h2v1h-2zM892 298h2v1h-2zM287 299h1v1h-1zM714 299h3v1h-3zM891 299h1v1h-1zM286 300h1v1h-1zM717 300h2v1h-2zM890 300h1v1h-1zM285 301h1v1h-1zM719 301h3v1h-3zM889 301h1v1h-1zM284 302h1v1h-1zM722 302h2v1h-2zM887 302h2v1h-2zM282 303h2v1h-2zM724 303h2v1h-2zM886 303h1v1h-1zM281 304h1v1h-1zM726 304h2v1h-2zM885 304h1v1h-1zM280 305h1v1h-1zM728 305h2v1h-2zM884 305h1v1h-1zM279 306h1v1h-1zM730 306h2v1h-2zM882 306h2v1h-2zM278 307h1v1h-1zM732 307h2v1h-2zM881 307h1v1h-1zM277 308h1v1h-1zM734 308h2v1h-2zM880 308h1v1h-1zM276 309h1v1h-1zM736 309h2v1h-2zM879 309h1v1h-1zM275 310h1v1h-1zM738 310h1v1h-1zM878 310h1v1h-1zM274 311h1v1h-1zM739 311h1v1h-1zM877 311h1v1h-1zM273 312h1v1h-1zM740 312h2v1h-2zM875 312h2v1h-2zM272 313h1v1h-1zM742 313h1v1h-1zM874 313h1v1h-1zM271 314h1v1h-1zM743 314h2v1h-2zM873 314h1v1h-1zM271 315h1v1h-1zM745 315h1v1h-1zM872 315h1v1h-1zM270 316h1v1h-1zM746 316h2v1h-2zM871 316h1v1h-1zM269 317h1v1h-1zM748 317h1v1h-1zM870 317h1v1h-1zM268 318h1v1h-1zM749 318h1v1h-1zM868 318h2v1h-2zM267 319h1v1h-1zM750 319h2v1h-2zM866 319h2v1h-2zM266 320h1v1h-1zM752 320h1v1h-1zM865 320h1v1h-1zM265 321h1v1h-1zM753 321h2v1h-2zM863 321h2v1h-2zM264 322h1v1h-1zM755 322h1v1h-1zM861 322h2v1h-2zM264 323h1v1h-1zM756 323h2v1h-2zM860 323h1v1h-1zM263 324h1v1h-1zM758 324h1v1h-1zM858 324h2v1h-2zM262 325h1v1h-1zM759 325h1v1h-1zM856 325h2v1h-2zM261 326h1v1h-1zM760 326h2v1h-2zM854 326h2v1h-2zM260 327h1v1h-1zM762 327h1v1h-1zM853 327h1v1h-1zM259 328h1v1h-1zM763 328h2v1h-2zM851 328h2v1h-2zM258 329h1v1h-1zM765 329h2v1h-2zM849 329h2v1h-2zM257 330h1v1h-1zM767 330h2v1h-2zM847 330h2v1h-2zM256 331h1v1h-1zM769 331h3v1h-3zM844 331h3v1h-3zM255 332h1v1h-1zM772 332h2v1h-2zM842 332h2v1h-2zM254 333h1v1h-1zM774 333h3v1h-3zM838 333h4v1h-4zM253 334h1v1h-1zM777 334h2v1h-2zM833 334h5v1h-5zM253 335h1v1h-1zM779 335h3v1h-3zM828 335h5v1h-5zM252 336h1v1h-1zM782 336h2v1h-2zM820 336h8v1h-8zM251 337h1v1h-1zM784 337h4v1h-4zM813 337h7v1h-7zM250 338h1v1h-1zM788 338h5v1h-5zM808 338h5v1h-5zM249 339h1v1h-1zM793 339h15v1h-15zM248 340h1v1h-1zM247 341h1v1h-1zM246 342h1v1h-1zM245 343h1v1h-1zM243 344h2v1h-2zM242 345h1v1h-1zM240 346h2v1h-2zM239 347h1v1h-1zM237 348h2v1h-2zM236 349h1v1h-1zM234 350h2v1h-2zM233 351h1v1h-1zM231 352h2v1h-2zM230 353h1v1h-1zM229 354h1v1h-1zM227 355h2v1h-2zM226 356h1v1h-1zM225 357h1v1h-1zM224 358h1v1h-1zM222 359h2v1h-2zM221 360h1v1h-1zM220 361h1v1h-1zM219 362h1v1h-1zM217 363h2v1h-2zM216 364h1v1h-1zM214 365h2v1h-2zM212 366h2v1h-2zM210 367h2v1h-2zM208 368h2v1h-2zM206 369h2v1h-2zM202 370h4v1h-4zM199 371h3v1h-3zM196 372h3v1h-3zM193 373h3v1h-3zM190 374h3v1h-3zM187 375h3v1h-3zM183 376h4v1h-4zM179 377h4v1h-4zM175 378h4v1h-4zM74 379h8v1h-8zM146 379h29v1h-29zM68 380h6v1h-6zM82 380h8v1h-8zM138 380h8v1h-8zM62 381h6v1h-6zM90 381h8v1h-8zM130 381h8v1h-8zM57 382h5v1h-5zM98 382h7v1h-7zM122 382h8v1h-8zM50 383h7v1h-7zM105 383h5v1h-5zM115 383h7v1h-7zM42 384h8v1h-8zM110 384h5v1h-5zM37 385h5v1h-5zM34 386h3v1h-3zM32 387h2v1h-2zM29 388h3v1h-3zM26 389h3v1h-3zM24 390h2v1h-2zM21 391h3v1h-3zM18 392h3v1h-3zM14 393h4v1h-4zM11 394h3v1h-3zM8 395h3v1h-3zM6 396h2v1h-2z" fill="#ff0000" shape-rendering="crispEdges"/>
<g shape-rendering="crispEdges">
<rect x="6" y="180" width="1187" height="2" fill="#ff0000"/>
<rect x="6" y="241" width="1187" height="2" fill="#ff0000"/>
<rect x="6" y="294" width="1187" height="2" fill="#00d200"/>
<rect x="6" y="342" width="1187" height="2" fill="#4156e6"/>
<rect x="6" y="390" width="1187" height="2" fill="#4156e6"/>
</g>
<g shape-rendering="crispEdges">
<rect x="6" y="488" width="1" height="9" fill="#c0c0c0"/>
<rect x="14" y="488" width="1" height="9" fill="#c0c0c0"/>
<rect x="22" y="488" width="1" height="9" fill="#c0c0c0"/>
<rect x="30" y="486" width="1" height="11" fill="#c0c0c0"/>
<rect x="38" y="483" width="1" height="14" fill="#c0c0c0"/>
<rect x="46" y="483" width="1" height="14" fill="#c0c0c0"/>
<rect x="54" y="485" width="1" height="12" fill="#c0c0c0"/>
<rect x="62" y="488" width="1" height="9" fill="#c0c0c0"/>
<rect x="70" y="489" width="1" height="8" fill="#c0c0c0"/>
<rect x="78" y="490" width="1" height="7" fill="#c0c0c0"/>
<rect x="86" y="492" width="1" height="5" fill="#c0c0c0"/>
<rect x="94" y="495" width="1" height="2" fill="#c0c0c0"/>
<rect x="102" y="496" width="1" height="1" fill="#c0c0c0"/>
<rect x="110" y="496" width="1" height="1" fill="#c0c0c0"/>
<rect x="118" y="495" width="1" height="2" fill="#c0c0c0"/>
<rect x="126" y="492" width="1" height="5" fill="#c0c0c0"/>
<rect x="134" y="492" width="1" height="5" fill="#c0c0c0"/>
<rect x="142" y="492" width="1" height="5" fill="#c0c0c0"/>
<rect x="150" y="492" width="1" height="5" fill="#c0c0c0"/>
<rect x="158" y="492" width="1" height="5" fill="#c0c0c0"/>
<rect x="166" y="491" width="1" height="6" fill="#c0c0c0"/>
<rect x="174" y="490" width="1" height="7" fill="#c0c0c0"/>
<rect x="182" y="488" width="1" height="9" fill="#c0c0c0"/>
<rect x="190" y="485" width="1" height="12" fill="#c0c0c0"/>
<rect x="198" y="480" width="1" height="17" fill="#c0c0c0"/>
<rect x="206" y="476" width="1" height="21" fill="#c0c0c0"/>
<rect x="214" y="473" width="1" height="24" fill="#c0c0c0"/>
<rect x="222" y="468" width="1" height="29" fill="#c0c0c0"/>
<rect x="230" y="463" width="1" height="34" fill="#c0c0c0"/>
<rect x="238" y="460" width="1" height="37" fill="#c0c0c0"/>
<rect x="246" y="459" width="1" height="38" fill="#c0c0c0"/>
<rect x="254" y="455" width="1" height="42" fill="#c0c0c0"/>
<rect x="262" y="453" width="1" height="44" fill="#c0c0c0"/>
<rect x="270" y="449" width="1" height="48" fill="#c0c0c0"/>
<rect x="278" y="447" width="1" height="50" fill="#c0c0c0"/>
<rect x="286" y="446" width="1" height="51" fill="#c0c0c0"/>
<rect x="294" y="450" width="1" height="47" fill="#c0c0c0"/>
<rect x="302" y="454" width="1" height="43" fill="#c0c0c0"/>
<rect x="310" y="459" width="1" height="38" fill="#c0c0c0"/>
<rect x="318" y="461" width="1" height="36" fill="#c0c0c0"/>
<rect x="326" y="465" width="1" height="32" fill="#c0c0c0"/>
<rect x="334" y="465" width="1" height="32" fill="#c0c0c0"/>
<rect x="342" y="466" width="1" height="31" fill="#c0c0c0"/>
<rect x="350" y="464" width="1" height="33" fill="#c0c0c0"/>
<rect x="358" y="462" width="1" height="35" fill="#c0c0c0"/>
<rect x="366" y="451" width="1" height="46" fill="#c0c0c0"/>
<rect x="374" y="445" width="1" height="52" fill="#c0c0c0"/>
<rect x="382" y="440" width="1" height="57" fill="#c0c0c0"/>
<rect x="390" y="440" width="1" height="57" fill="#c0c0c0"/>
<rect x="398" y="442" width="1" height="55" fill="#c0c0c0"/>
<rect x="406" y="445" width="1" height="52" fill="#c0c0c0"/>
<rect x="414" y="447" width="1" height="50" fill="#c0c0c0"/>
<rect x="422" y="447" width="1" height="50" fill="#c0c0c0"/>
<rect x="430" y="448" width="1" height="49" fill="#c0c0c0"/>
<rect x="438" y="448" width="1" height="49" fill="#c0c0c0"/>
<rect x="446" y="445" width="1" height="52" fill="#c0c0c0"/>
<rect x="454" y="444" width="1" height="53" fill="#c0c0c0"/>
<rect x="462" y="445" width="1" height="52" fill="#c0c0c0"/>
<rect x="470" y="445" width="1" height="52" fill="#c0c0c0"/>
<rect x="478" y="448" width="1" height="49" fill="#c0c0c0"/>
<rect x="486" y="454" width="1" height="43" fill="#c0c0c0"/>
<rect x="494" y="463" width="1" height="34" fill="#c0c0c0"/>
<rect x="502" y="476" width="1" height="21" fill="#c0c0c0"/>
<rect x="510" y="486" width="1" height="11" fill="#c0c0c0"/>
<rect x="518" y="493" width="1" height="4" fill="#c0c0c0"/>
<rect x="526" y="496" width="1" height="1" fill="#c0c0c0"/>
<rect x="534" y="496" width="1" height="4" fill="#c0c0c0"/>
<rect x="542" y="496" width="1" height="10" fill="#c0c0c0"/>
<rect x="550" y="496" width="1" height="16" fill="#c0c0c0"/>
<rect x="558" y="496" width="1" height="21" fill="#c0c0c0"/>
<rect x="566" y="496" width="1" height="25" fill="#c0c0c0"/>
<rect x="574" y="496" width="1" height="25" fill="#c0c0c0"/>
<rect x="582" y="496" width="1" height="26" fill="#c0c0c0"/>
<rect x="590" y="496" width="1" height="26" fill="#c0c0c0"/>
<rect x="598" y="496" width="1" height="25" fill="#c0c0c0"/>
<rect x="606" y="496" width="1" height="24" fill="#c0c0c0"/>
<rect x="614" y="496" width="1" height="24" fill="#c0c0c0"/>
<rect x="622" y="496" width="1" height="24" fill="#c0c0c0"/>
<rect x="630" y="496" width="1" height="25" fill="#c0c0c0"/>
<rect x="638" y="496" width="1" height="26" fill="#c0c0c0"/>
<rect x="646" y="496" width="1" height="30" fill="#c0c0c0"/>
<rect x="654" y="496" width="1" height="31" fill="#c0c0c0"/>
<rect x="662" y="496" width="1" height="32" fill="#c0c0c0"/>
<rect x="670" y="496" width="1" height="34" fill="#c0c0c0"/>
<rect x="678" y="496" width="1" height="38" fill="#c0c0c0"/>
<rect x="686" y="496" width="1" height="41" fill="#c0c0c0"/>
<rect x="694" y="496" width="1" height="43" fill="#c0c0c0"/>
<rect x="702" y="496" width="1" height="44" fill="#c0c0c0"/>
<rect x="710" y="496" width="1" height="45" fill="#c0c0c0"/>
<rect x="718" y="496" width="1" height="44" fill="#c0c0c0"/>
<rect x="726" y="496" width="1" height="42" fill="#c0c0c0"/>
<rect x="734" y="496" width="1" height="41" fill="#c0c0c0"/>
<rect x="742" y="496" width="1" height="40" fill="#c0c0c0"/>
<rect x="750" y="496" width="1" height="40" fill="#c0c0c0"/>
<rect x="758" y="496" width="1" height="39" fill="#c0c0c0"/>
<rect x="766" y="496" width="1" height="37" fill="#c0c0c0"/>
<rect x="774" y="496" width="1" height="33" fill="#c0c0c0"/>
<rect x="782" y="496" width="1" height="29" fill="#c0c0c0"/>
<rect x="790" y="496" width="1" height="22" fill="#c0c0c0"/>
<rect x="798" y="496" width="1" height="17" fill="#c0c0c0"/>
<rect x="806" y="496" width="1" height="12" fill="#c0c0c0"/>
<rect x="814" y="496" width="1" height="6" fill="#c0c0c0"/>
<rect x="822" y="496" width="1" height="3" fill="#c0c0c0"/>
<rect x="830" y="496" width="1" height="1" fill="#c0c0c0"/>
<rect x="838" y="496" width="1" height="1" fill="#c0c0c0"/>
<rect x="846" y="496" width="1" height="1" fill="#c0c0c0"/>
<rect x="854" y="491" width="1" height="6" fill="#c0c0c0"/>
<rect x="862" y="487" width="1" height="10" fill="#c0c0c0"/>
<rect x="870" y="483" width="1" height="14" fill="#c0c0c0"/>
<rect x="878" y="479" width="1" height="18" fill="#c0c0c0"/>
<rect x="886" y="475" width="1" height="22" fill="#c0c0c0"/>
<rect x="894" y="472" width="1" height="25" fill="#c0c0c0"/>
<rect x="902" y="468" width="1" height="29" fill="#c0c0c0"/>
<rect x="910" y="466" width="1" height="31" fill="#c0c0c0"/>
<rect x="918" y="466" width="1" height="31" fill="#c0c0c0"/>
<rect x="926" y="467" width="1" height="30" fill="#c0c0c0"/>
<rect x="934" y="468" width="1" height="29" fill="#c0c0c0"/>
<rect x="942" y="470" width="1" height="27" fill="#c0c0c0"/>
<rect x="950" y="470" width="1" height="27" fill="#c0c0c0"/>
<rect x="958" y="470" width="1" height="27" fill="#c0c0c0"/>
<rect x="966" y="468" width="1" height="29" fill="#c0c0c0"/>
<rect x="974" y="466" width="1" height="31" fill="#c0c0c0"/>
<rect x="982" y="464" width="1" height="33" fill="#c0c0c0"/>
<rect x="990" y="463" width="1" height="34" fill="#c0c0c0"/>
<rect x="998" y="463" width="1" height="34" fill="#c0c0c0"/>
<rect x="1006" y="463" width="1" height="34" fill="#c0c0c0"/>
<rect x="1014" y="463" width="1" height="34" fill="#c0c0c0"/>
<rect x="1022" y="466" width="1" height="31" fill="#c0c0c0"/>
<rect x="1030" y="469" width="1" height="28" fill="#c0c0c0"/>
<rect x="1038" y="472" width="1" height="25" fill="#c0c0c0"/>
<rect x="1046" y="474" width="1" height="23" fill="#c0c0c0"/>
<rect x="1054" y="477" width="1" height="20" fill="#c0c0c0"/>
<rect x="1062" y="480" width="1" height="17" fill="#c0c0c0"/>
<rect x="1070" y="480" width="1" height="17" fill="#c0c0c0"/>
<rect x="1078" y="481" width="1" height="16" fill="#c0c0c0"/>
<rect x="1086" y="481" width="1" height="16" fill="#c0c0c0"/>
<rect x="1094" y="484" width="1" height="13" fill="#c0c0c0"/>
<rect x="1102" y="486" width="1" height="11" fill="#c0c0c0"/>
<rect x="1110" y="490" width="1" height="7" fill="#c0c0c0"/>
<rect x="1118" y="494" width="1" height="3" fill="#c0c0c0"/>
<rect x="1126" y="496" width="1" height="1" fill="#c0c0c0"/>
<rect x="1134" y="496" width="1" height="7" fill="#c0c0c0"/>
<rect x="1142" y="496" width="1" height="11" fill="#c0c0c0"/>
<rect x="1150" y="496" width="1" height="16" fill="#c0c0c0"/>
<rect x="1158" y="496" width="1" height="21" fill="#c0c0c0"/>
<rect x="1166" y="496" width="1" height="22" fill="#c0c0c0"/>
<rect x="1174" y="496" width="1" height="22" fill="#c0c0c0"/>
</g>
<path d="M434 443h1v1h-1zM438 443h5v1h-5zM446 443h4v1h-4zM426 444h1v1h-1zM430 444h4v1h-4zM450 444h1v1h-1zM454 444h4v1h-4zM422 445h4v1h-4zM458 445h1v1h-1zM462 445h5v1h-5zM470 445h4v1h-4zM416 446h3v1h-3zM474 446h1v1h-1zM478 446h5v1h-5zM486 446h2v1h-2zM414 447h2v1h-2zM488 447h3v1h-3zM410 448h1v1h-1zM494 448h1v1h-1zM408 449h2v1h-2zM495 449h2v1h-2zM406 450h2v1h-2zM497 450h2v1h-2zM400 451h3v1h-3zM298 452h1v1h-1zM302 452h5v1h-5zM310 452h5v1h-5zM318 452h4v1h-4zM398 452h2v1h-2zM502 452h1v1h-1zM294 453h4v1h-4zM322 453h1v1h-1zM326 453h4v1h-4zM392 453h3v1h-3zM503 453h2v1h-2zM288 454h3v1h-3zM330 454h1v1h-1zM334 454h4v1h-4zM390 454h2v1h-2zM505 454h2v1h-2zM286 455h2v1h-2zM338 455h1v1h-1zM342 455h2v1h-2zM386 455h1v1h-1zM282 456h1v1h-1zM344 456h2v1h-2zM384 456h2v1h-2zM510 456h1v1h-1zM280 457h2v1h-2zM346 457h1v1h-1zM382 457h2v1h-2zM511 457h2v1h-2zM278 458h2v1h-2zM350 458h2v1h-2zM376 458h3v1h-3zM513 458h1v1h-1zM274 459h1v1h-1zM352 459h3v1h-3zM370 459h1v1h-1zM374 459h2v1h-2zM514 459h1v1h-1zM272 460h2v1h-2zM358 460h5v1h-5zM366 460h4v1h-4zM270 461h2v1h-2zM518 461h1v1h-1zM266 462h1v1h-1zM519 462h1v1h-1zM264 463h2v1h-2zM520 463h2v1h-2zM262 464h2v1h-2zM522 464h1v1h-1zM1010 464h1v1h-1zM1014 464h5v1h-5zM1022 464h5v1h-5zM1030 464h5v1h-5zM1038 464h4v1h-4zM1002 465h1v1h-1zM1006 465h4v1h-4zM1042 465h1v1h-1zM1046 465h2v1h-2zM257 466h2v1h-2zM978 466h1v1h-1zM982 466h5v1h-5zM990 466h5v1h-5zM998 466h4v1h-4zM1048 466h3v1h-3zM255 467h2v1h-2zM526 467h1v1h-1zM954 467h1v1h-1zM958 467h5v1h-5zM966 467h5v1h-5zM974 467h4v1h-4zM1054 467h2v1h-2zM254 468h1v1h-1zM527 468h1v1h-1zM946 468h1v1h-1zM950 468h4v1h-4zM1056 468h3v1h-3zM250 469h1v1h-1zM528 469h1v1h-1zM942 469h4v1h-4zM1062 469h4v1h-4zM248 470h2v1h-2zM529 470h1v1h-1zM936 470h3v1h-3zM1066 470h1v1h-1zM1070 470h2v1h-2zM246 471h2v1h-2zM530 471h1v1h-1zM934 471h2v1h-2zM1072 471h3v1h-3zM928 472h3v1h-3zM1078 472h4v1h-4zM241 473h2v1h-2zM926 473h2v1h-2zM1082 473h1v1h-1zM1086 473h2v1h-2zM239 474h2v1h-2zM534 474h1v1h-1zM920 474h3v1h-3zM1088 474h2v1h-2zM238 475h1v1h-1zM535 475h1v1h-1zM918 475h2v1h-2zM1090 475h1v1h-1zM536 476h1v1h-1zM914 476h1v1h-1zM1094 476h2v1h-2zM233 477h2v1h-2zM537 477h1v1h-1zM912 477h2v1h-2zM1096 477h3v1h-3zM231 478h2v1h-2zM538 478h1v1h-1zM910 478h2v1h-2zM1102 478h2v1h-2zM230 479h1v1h-1zM906 479h1v1h-1zM1104 479h3v1h-3zM226 480h1v1h-1zM904 480h2v1h-2zM1110 480h2v1h-2zM224 481h2v1h-2zM542 481h1v1h-1zM902 481h2v1h-2zM1112 481h2v1h-2zM222 482h2v1h-2zM543 482h1v1h-1zM1114 482h1v1h-1zM216 483h3v1h-3zM544 483h1v1h-1zM897 483h2v1h-2zM1118 483h2v1h-2zM214 484h2v1h-2zM545 484h1v1h-1zM895 484h2v1h-2zM1120 484h3v1h-3zM42 485h1v1h-1zM46 485h5v1h-5zM54 485h5v1h-5zM62 485h5v1h-5zM70 485h5v1h-5zM208 485h3v1h-3zM546 485h1v1h-1zM894 485h1v1h-1zM1126 485h2v1h-2zM6 486h5v1h-5zM14 486h5v1h-5zM22 486h5v1h-5zM30 486h5v1h-5zM38 486h4v1h-4zM78 486h5v1h-5zM86 486h4v1h-4zM206 486h2v1h-2zM890 486h1v1h-1zM1128 486h2v1h-2zM90 487h1v1h-1zM94 487h3v1h-3zM200 487h3v1h-3zM888 487h2v1h-2zM1130 487h1v1h-1zM97 488h2v1h-2zM198 488h2v1h-2zM550 488h1v1h-1zM886 488h2v1h-2zM1134 488h2v1h-2zM102 489h4v1h-4zM192 489h3v1h-3zM551 489h1v1h-1zM882 489h1v1h-1zM1136 489h2v1h-2zM106 490h1v1h-1zM110 490h3v1h-3zM190 490h2v1h-2zM552 490h1v1h-1zM880 490h2v1h-2zM1138 490h1v1h-1zM113 491h2v1h-2zM118 491h5v1h-5zM182 491h5v1h-5zM553 491h1v1h-1zM878 491h2v1h-2zM1142 491h2v1h-2zM126 492h5v1h-5zM134 492h5v1h-5zM142 492h5v1h-5zM174 492h5v1h-5zM554 492h1v1h-1zM1144 492h2v1h-2zM150 493h5v1h-5zM158 493h5v1h-5zM166 493h5v1h-5zM873 493h2v1h-2zM1146 493h1v1h-1zM871 494h2v1h-2zM1150 494h1v1h-1zM558 495h1v1h-1zM870 495h1v1h-1zM1151 495h2v1h-2zM559 496h1v1h-1zM866 496h1v1h-1zM1153 496h2v1h-2zM560 497h1v1h-1zM864 497h2v1h-2zM561 498h1v1h-1zM862 498h2v1h-2zM1158 498h1v1h-1zM562 499h1v1h-1zM1159 499h2v1h-2zM857 500h2v1h-2zM1161 500h2v1h-2zM855 501h2v1h-2zM566 502h2v1h-2zM854 502h1v1h-1zM1166 502h2v1h-2zM568 503h2v1h-2zM850 503h1v1h-1zM1168 503h2v1h-2zM570 504h1v1h-1zM848 504h2v1h-2zM1170 504h1v1h-1zM574 505h1v1h-1zM846 505h2v1h-2zM575 506h2v1h-2zM577 507h2v1h-2zM842 507h1v1h-1zM841 508h1v1h-1zM582 509h1v1h-1zM839 509h2v1h-2zM583 510h2v1h-2zM838 510h1v1h-1zM585 511h2v1h-2zM833 512h2v1h-2zM590 513h2v1h-2zM831 513h2v1h-2zM592 514h2v1h-2zM830 514h1v1h-1zM594 515h1v1h-1zM826 515h1v1h-1zM598 516h2v1h-2zM824 516h2v1h-2zM600 517h3v1h-3zM822 517h2v1h-2zM606 518h2v1h-2zM608 519h3v1h-3zM818 519h1v1h-1zM614 520h4v1h-4zM817 520h1v1h-1zM618 521h1v1h-1zM622 521h5v1h-5zM630 521h5v1h-5zM638 521h4v1h-4zM815 521h2v1h-2zM642 522h1v1h-1zM646 522h5v1h-5zM654 522h4v1h-4zM814 522h1v1h-1zM658 523h1v1h-1zM662 523h4v1h-4zM666 524h1v1h-1zM670 524h4v1h-4zM809 524h2v1h-2zM674 525h1v1h-1zM678 525h2v1h-2zM807 525h2v1h-2zM680 526h3v1h-3zM806 526h1v1h-1zM686 527h2v1h-2zM802 527h1v1h-1zM688 528h3v1h-3zM800 528h2v1h-2zM694 529h2v1h-2zM798 529h2v1h-2zM696 530h3v1h-3zM794 530h1v1h-1zM702 531h2v1h-2zM792 531h2v1h-2zM704 532h3v1h-3zM790 532h2v1h-2zM710 533h2v1h-2zM784 533h3v1h-3zM712 534h3v1h-3zM782 534h2v1h-2zM718 535h4v1h-4zM776 535h3v1h-3zM722 536h1v1h-1zM726 536h4v1h-4zM770 536h1v1h-1zM774 536h2v1h-2zM730 537h1v1h-1zM734 537h4v1h-4zM762 537h1v1h-1zM766 537h4v1h-4zM738 538h1v1h-1zM742 538h5v1h-5zM750 538h5v1h-5zM758 538h4v1h-4z" fill="#ff0000" shape-rendering="crispEdges"/>
<g shape-rendering="crispEdges">
<line x1="7" y1="585.5" x2="1193" y2="585.5" stroke="#c0c0c0" stroke-width="1" stroke-dasharray="3 3"/>
<line x1="7" y1="632.5" x2="1193" y2="632.5" stroke="#c0c0c0" stroke-width="1" stroke-dasharray="3 3"/>
</g>
<path d="M269 574h11v1h-11zM229 575h10v1h-10zM266 575h3v1h-3zM280 575h2v1h-2zM366 575h1v1h-1zM226 576h3v1h-3zM239 576h1v1h-1zM264 576h2v1h-2zM282 576h3v1h-3zM365 576h1v1h-1zM367 576h2v1h-2zM224 577h2v1h-2zM240 577h1v1h-1zM254 577h10v1h-10zM285 577h2v1h-2zM365 577h1v1h-1zM369 577h2v1h-2zM221 578h3v1h-3zM241 578h1v1h-1zM252 578h2v1h-2zM286 578h1v1h-1zM364 578h1v1h-1zM371 578h2v1h-2zM219 579h2v1h-2zM242 579h1v1h-1zM251 579h1v1h-1zM287 579h1v1h-1zM364 579h1v1h-1zM373 579h10v1h-10zM217 580h2v1h-2zM243 580h1v1h-1zM250 580h1v1h-1zM287 580h1v1h-1zM363 580h1v1h-1zM383 580h1v1h-1zM215 581h2v1h-2zM244 581h1v1h-1zM248 581h2v1h-2zM288 581h1v1h-1zM362 581h1v1h-1zM384 581h1v1h-1zM38 582h1v1h-1zM198 582h2v1h-2zM212 582h3v1h-3zM245 582h1v1h-1zM247 582h1v1h-1zM288 582h1v1h-1zM362 582h1v1h-1zM385 582h1v1h-1zM446 582h1v1h-1zM900 582h6v1h-6zM974 582h4v1h-4zM1004 582h4v1h-4zM36 583h2v1h-2zM39 583h1v1h-1zM196 583h2v1h-2zM200 583h4v1h-4zM208 583h4v1h-4zM246 583h1v1h-1zM289 583h1v1h-1zM361 583h1v1h-1zM386 583h1v1h-1zM445 583h1v1h-1zM447 583h1v1h-1zM896 583h4v1h-4zM906 583h5v1h-5zM972 583h2v1h-2zM978 583h16v1h-16zM1000 583h4v1h-4zM1008 583h2v1h-2zM35 584h1v1h-1zM39 584h1v1h-1zM195 584h1v1h-1zM204 584h4v1h-4zM289 584h1v1h-1zM360 584h1v1h-1zM387 584h1v1h-1zM444 584h1v1h-1zM448 584h1v1h-1zM885 584h11v1h-11zM911 584h1v1h-1zM970 584h2v1h-2zM994 584h6v1h-6zM1010 584h3v1h-3zM34 585h1v1h-1zM40 585h1v1h-1zM194 585h1v1h-1zM290 585h1v1h-1zM360 585h1v1h-1zM388 585h1v1h-1zM443 585h1v1h-1zM449 585h1v1h-1zM882 585h3v1h-3zM912 585h1v1h-1zM969 585h1v1h-1zM1013 585h2v1h-2zM32 586h2v1h-2zM40 586h1v1h-1zM192 586h2v1h-2zM290 586h1v1h-1zM359 586h1v1h-1zM389 586h1v1h-1zM442 586h1v1h-1zM450 586h1v1h-1zM880 586h2v1h-2zM913 586h1v1h-1zM967 586h2v1h-2zM1015 586h1v1h-1zM31 587h1v1h-1zM41 587h1v1h-1zM191 587h1v1h-1zM291 587h1v1h-1zM350 587h4v1h-4zM359 587h1v1h-1zM390 587h1v1h-1zM441 587h1v1h-1zM451 587h1v1h-1zM877 587h3v1h-3zM914 587h1v1h-1zM965 587h2v1h-2zM1015 587h1v1h-1zM30 588h1v1h-1zM41 588h1v1h-1zM190 588h1v1h-1zM291 588h1v1h-1zM349 588h1v1h-1zM354 588h5v1h-5zM391 588h1v1h-1zM440 588h1v1h-1zM452 588h1v1h-1zM468 588h3v1h-3zM875 588h2v1h-2zM914 588h1v1h-1zM963 588h2v1h-2zM1016 588h1v1h-1zM28 589h2v1h-2zM42 589h1v1h-1zM188 589h2v1h-2zM292 589h1v1h-1zM348 589h1v1h-1zM392 589h2v1h-2zM426 589h8v1h-8zM439 589h1v1h-1zM453 589h1v1h-1zM464 589h4v1h-4zM471 589h2v1h-2zM873 589h2v1h-2zM915 589h1v1h-1zM961 589h2v1h-2zM1017 589h1v1h-1zM27 590h1v1h-1zM42 590h1v1h-1zM187 590h1v1h-1zM292 590h1v1h-1zM347 590h1v1h-1zM394 590h1v1h-1zM420 590h6v1h-6zM434 590h5v1h-5zM454 590h10v1h-10zM473 590h2v1h-2zM871 590h2v1h-2zM916 590h1v1h-1zM959 590h2v1h-2zM1017 590h1v1h-1zM26 591h1v1h-1zM43 591h1v1h-1zM186 591h1v1h-1zM293 591h1v1h-1zM346 591h1v1h-1zM395 591h1v1h-1zM416 591h4v1h-4zM475 591h2v1h-2zM866 591h5v1h-5zM917 591h1v1h-1zM950 591h9v1h-9zM1018 591h1v1h-1zM24 592h2v1h-2zM43 592h1v1h-1zM184 592h2v1h-2zM293 592h1v1h-1zM345 592h1v1h-1zM396 592h2v1h-2zM413 592h3v1h-3zM477 592h2v1h-2zM858 592h8v1h-8zM918 592h2v1h-2zM948 592h2v1h-2zM1019 592h1v1h-1zM23 593h1v1h-1zM44 593h1v1h-1zM183 593h1v1h-1zM294 593h1v1h-1zM344 593h1v1h-1zM398 593h2v1h-2zM410 593h3v1h-3zM479 593h1v1h-1zM854 593h4v1h-4zM920 593h2v1h-2zM947 593h1v1h-1zM1019 593h1v1h-1zM22 594h1v1h-1zM44 594h1v1h-1zM182 594h1v1h-1zM294 594h1v1h-1zM343 594h1v1h-1zM400 594h4v1h-4zM408 594h2v1h-2zM479 594h1v1h-1zM853 594h1v1h-1zM922 594h3v1h-3zM930 594h6v1h-6zM946 594h1v1h-1zM1020 594h1v1h-1zM20 595h2v1h-2zM45 595h1v1h-1zM181 595h1v1h-1zM295 595h2v1h-2zM334 595h9v1h-9zM404 595h4v1h-4zM480 595h1v1h-1zM852 595h1v1h-1zM925 595h5v1h-5zM936 595h2v1h-2zM944 595h2v1h-2zM1021 595h1v1h-1zM19 596h1v1h-1zM45 596h1v1h-1zM180 596h1v1h-1zM297 596h1v1h-1zM317 596h2v1h-2zM333 596h1v1h-1zM480 596h1v1h-1zM814 596h1v1h-1zM852 596h1v1h-1zM938 596h3v1h-3zM943 596h1v1h-1zM1021 596h1v1h-1zM18 597h1v1h-1zM46 597h1v1h-1zM178 597h2v1h-2zM298 597h2v1h-2zM315 597h2v1h-2zM319 597h1v1h-1zM332 597h1v1h-1zM481 597h1v1h-1zM812 597h2v1h-2zM815 597h2v1h-2zM851 597h1v1h-1zM941 597h2v1h-2zM1022 597h1v1h-1zM1046 597h1v1h-1zM16 598h2v1h-2zM47 598h1v1h-1zM177 598h1v1h-1zM300 598h2v1h-2zM313 598h2v1h-2zM320 598h2v1h-2zM330 598h2v1h-2zM482 598h1v1h-1zM811 598h1v1h-1zM817 598h1v1h-1zM850 598h1v1h-1zM1023 598h2v1h-2zM1044 598h2v1h-2zM1047 598h1v1h-1zM15 599h1v1h-1zM47 599h1v1h-1zM118 599h9v1h-9zM176 599h1v1h-1zM302 599h4v1h-4zM311 599h2v1h-2zM322 599h1v1h-1zM329 599h1v1h-1zM482 599h1v1h-1zM810 599h1v1h-1zM818 599h2v1h-2zM849 599h1v1h-1zM1025 599h1v1h-1zM1042 599h2v1h-2zM1048 599h1v1h-1zM1070 599h12v1h-12zM10 600h5v1h-5zM48 600h1v1h-1zM118 600h1v1h-1zM127 600h2v1h-2zM175 600h1v1h-1zM306 600h5v1h-5zM323 600h1v1h-1zM328 600h1v1h-1zM483 600h1v1h-1zM808 600h2v1h-2zM820 600h2v1h-2zM848 600h1v1h-1zM1026 600h2v1h-2zM1041 600h1v1h-1zM1049 600h1v1h-1zM1069 600h1v1h-1zM1082 600h5v1h-5zM6 601h4v1h-4zM48 601h1v1h-1zM117 601h1v1h-1zM129 601h1v1h-1zM173 601h2v1h-2zM324 601h2v1h-2zM327 601h1v1h-1zM484 601h1v1h-1zM807 601h1v1h-1zM822 601h2v1h-2zM848 601h1v1h-1zM1028 601h2v1h-2zM1039 601h2v1h-2zM1050 601h1v1h-1zM1068 601h1v1h-1zM1087 601h1v1h-1zM49 602h1v1h-1zM117 602h1v1h-1zM130 602h2v1h-2zM140 602h4v1h-4zM170 602h3v1h-3zM326 602h1v1h-1zM484 602h1v1h-1zM790 602h4v1h-4zM802 602h5v1h-5zM824 602h4v1h-4zM847 602h1v1h-1zM1030 602h9v1h-9zM1050 602h1v1h-1zM1067 602h1v1h-1zM1088 602h1v1h-1zM49 603h1v1h-1zM116 603h1v1h-1zM132 603h2v1h-2zM136 603h4v1h-4zM144 603h4v1h-4zM168 603h2v1h-2zM485 603h1v1h-1zM789 603h1v1h-1zM794 603h8v1h-8zM828 603h6v1h-6zM842 603h5v1h-5zM1051 603h1v1h-1zM1066 603h1v1h-1zM1089 603h1v1h-1zM50 604h1v1h-1zM70 604h2v1h-2zM116 604h1v1h-1zM134 604h2v1h-2zM148 604h6v1h-6zM162 604h6v1h-6zM485 604h1v1h-1zM788 604h1v1h-1zM834 604h8v1h-8zM1052 604h1v1h-1zM1066 604h1v1h-1zM1090 604h1v1h-1zM50 605h1v1h-1zM69 605h1v1h-1zM72 605h2v1h-2zM115 605h1v1h-1zM154 605h8v1h-8zM486 605h1v1h-1zM787 605h1v1h-1zM1053 605h1v1h-1zM1065 605h1v1h-1zM1091 605h1v1h-1zM51 606h1v1h-1zM68 606h1v1h-1zM74 606h3v1h-3zM115 606h1v1h-1zM487 606h1v1h-1zM786 606h1v1h-1zM1054 606h2v1h-2zM1064 606h1v1h-1zM1092 606h1v1h-1zM51 607h1v1h-1zM66 607h2v1h-2zM77 607h2v1h-2zM114 607h1v1h-1zM488 607h1v1h-1zM785 607h1v1h-1zM1056 607h4v1h-4zM1063 607h1v1h-1zM1093 607h1v1h-1zM52 608h1v1h-1zM65 608h1v1h-1zM79 608h1v1h-1zM114 608h1v1h-1zM489 608h1v1h-1zM784 608h1v1h-1zM1060 608h3v1h-3zM1094 608h2v1h-2zM52 609h1v1h-1zM64 609h1v1h-1zM80 609h2v1h-2zM113 609h1v1h-1zM490 609h2v1h-2zM783 609h1v1h-1zM1096 609h2v1h-2zM53 610h1v1h-1zM63 610h1v1h-1zM82 610h1v1h-1zM113 610h1v1h-1zM492 610h1v1h-1zM782 610h1v1h-1zM1098 610h3v1h-3zM53 611h1v1h-1zM58 611h5v1h-5zM83 611h1v1h-1zM112 611h1v1h-1zM493 611h1v1h-1zM781 611h1v1h-1zM1101 611h2v1h-2zM54 612h4v1h-4zM84 612h2v1h-2zM112 612h1v1h-1zM494 612h1v1h-1zM780 612h1v1h-1zM1103 612h1v1h-1zM86 613h1v1h-1zM111 613h1v1h-1zM495 613h1v1h-1zM779 613h1v1h-1zM1104 613h1v1h-1zM87 614h2v1h-2zM101 614h5v1h-5zM111 614h1v1h-1zM495 614h1v1h-1zM778 614h1v1h-1zM1105 614h1v1h-1zM89 615h1v1h-1zM99 615h2v1h-2zM106 615h5v1h-5zM496 615h1v1h-1zM777 615h1v1h-1zM1106 615h2v1h-2zM90 616h2v1h-2zM97 616h2v1h-2zM497 616h1v1h-1zM597 616h11v1h-11zM776 616h1v1h-1zM1108 616h1v1h-1zM92 617h2v1h-2zM95 617h2v1h-2zM498 617h1v1h-1zM524 617h11v1h-11zM594 617h3v1h-3zM608 617h2v1h-2zM775 617h1v1h-1zM1109 617h1v1h-1zM94 618h1v1h-1zM498 618h1v1h-1zM520 618h4v1h-4zM535 618h2v1h-2zM574 618h2v1h-2zM592 618h2v1h-2zM610 618h3v1h-3zM773 618h2v1h-2zM1110 618h9v1h-9zM499 619h1v1h-1zM517 619h3v1h-3zM537 619h1v1h-1zM573 619h1v1h-1zM576 619h2v1h-2zM588 619h4v1h-4zM613 619h3v1h-3zM770 619h3v1h-3zM1119 619h2v1h-2zM500 620h1v1h-1zM515 620h2v1h-2zM538 620h2v1h-2zM572 620h1v1h-1zM578 620h3v1h-3zM584 620h4v1h-4zM616 620h4v1h-4zM726 620h1v1h-1zM768 620h2v1h-2zM1121 620h1v1h-1zM501 621h1v1h-1zM513 621h2v1h-2zM540 621h2v1h-2zM570 621h2v1h-2zM581 621h3v1h-3zM620 621h4v1h-4zM725 621h1v1h-1zM727 621h1v1h-1zM766 621h2v1h-2zM1122 621h2v1h-2zM1172 621h2v1h-2zM501 622h1v1h-1zM511 622h2v1h-2zM542 622h2v1h-2zM569 622h1v1h-1zM624 622h4v1h-4zM724 622h1v1h-1zM728 622h1v1h-1zM765 622h1v1h-1zM1124 622h2v1h-2zM1168 622h4v1h-4zM502 623h9v1h-9zM544 623h2v1h-2zM568 623h1v1h-1zM628 623h6v1h-6zM722 623h2v1h-2zM729 623h1v1h-1zM764 623h1v1h-1zM1126 623h1v1h-1zM1166 623h2v1h-2zM546 624h3v1h-3zM567 624h1v1h-1zM634 624h5v1h-5zM721 624h1v1h-1zM730 624h2v1h-2zM763 624h1v1h-1zM1127 624h1v1h-1zM1165 624h1v1h-1zM549 625h5v1h-5zM562 625h5v1h-5zM639 625h1v1h-1zM720 625h1v1h-1zM732 625h1v1h-1zM762 625h1v1h-1zM1128 625h1v1h-1zM1142 625h1v1h-1zM1164 625h1v1h-1zM554 626h8v1h-8zM640 626h2v1h-2zM653 626h10v1h-10zM719 626h1v1h-1zM733 626h1v1h-1zM761 626h1v1h-1zM1129 626h1v1h-1zM1141 626h1v1h-1zM1143 626h2v1h-2zM1163 626h1v1h-1zM642 627h1v1h-1zM651 627h2v1h-2zM663 627h1v1h-1zM718 627h1v1h-1zM734 627h10v1h-10zM760 627h1v1h-1zM1130 627h1v1h-1zM1140 627h1v1h-1zM1145 627h1v1h-1zM1162 627h1v1h-1zM643 628h1v1h-1zM649 628h2v1h-2zM664 628h2v1h-2zM717 628h1v1h-1zM744 628h2v1h-2zM759 628h1v1h-1zM1130 628h1v1h-1zM1138 628h2v1h-2zM1146 628h2v1h-2zM1162 628h1v1h-1zM644 629h2v1h-2zM647 629h2v1h-2zM666 629h1v1h-1zM716 629h1v1h-1zM746 629h3v1h-3zM754 629h5v1h-5zM1131 629h1v1h-1zM1137 629h1v1h-1zM1148 629h2v1h-2zM1161 629h1v1h-1zM646 630h1v1h-1zM667 630h1v1h-1zM715 630h1v1h-1zM749 630h5v1h-5zM1132 630h1v1h-1zM1136 630h1v1h-1zM1150 630h2v1h-2zM1160 630h1v1h-1zM668 631h2v1h-2zM714 631h1v1h-1zM1133 631h1v1h-1zM1135 631h1v1h-1zM1152 631h4v1h-4zM1159 631h1v1h-1zM670 632h2v1h-2zM714 632h1v1h-1zM1134 632h1v1h-1zM1156 632h3v1h-3zM672 633h2v1h-2zM713 633h1v1h-1zM674 634h3v1h-3zM693 634h5v1h-5zM712 634h1v1h-1zM677 635h3v1h-3zM690 635h3v1h-3zM698 635h8v1h-8zM711 635h1v1h-1zM680 636h4v1h-4zM688 636h2v1h-2zM706 636h5v1h-5zM684 637h4v1h-4z" fill="#1e90ff" shape-rendering="crispEdges"/>
<g shape-rendering="crispEdges">
<rect x="1194" y="31" width="2" height="1" fill="#000"/>
<rect x="1194" y="64" width="2" height="1" fill="#000"/>
<rect x="1194" y="97" width="2" height="1" fill="#000"/>
<rect x="1194" y="130" width="2" height="1" fill="#000"/>
<rect x="1194" y="163" width="2" height="1" fill="#000"/>
<rect x="1194" y="196" width="2" height="1" fill="#000"/>
<rect x="1194" y="229" width="2" height="1" fill="#000"/>
<rect x="1194" y="262" width="2" height="1" fill="#000"/>
<rect x="1194" y="295" width="2" height="1" fill="#000"/>
<rect x="1194" y="328" width="2" height="1" fill="#000"/>
<rect x="1194" y="361" width="2" height="1" fill="#000"/>
<rect x="1194" y="394" width="2" height="1" fill="#000"/>
<rect x="1194" y="427" width="2" height="1" fill="#000"/>
<rect x="6" y="668" width="1" height="3" fill="#000"/>
<rect x="70" y="668" width="1" height="3" fill="#000"/>
<rect x="134" y="668" width="1" height="3" fill="#000"/>
<rect x="198" y="668" width="1" height="3" fill="#000"/>
<rect x="262" y="668" width="1" height="3" fill="#000"/>
<rect x="326" y="668" width="1" height="3" fill="#000"/>
<rect x="390" y="668" width="1" height="3" fill="#000"/>
<rect x="454" y="668" width="1" height="3" fill="#000"/>
<rect x="518" y="668" width="1" height="3" fill="#000"/>
<rect x="582" y="668" width="1" height="3" fill="#000"/>
<rect x="646" y="668" width="1" height="3" fill="#000"/>
<rect x="710" y="668" width="1" height="3" fill="#000"/>
<rect x="774" y="668" width="1" height="3" fill="#000"/>
<rect x="838" y="668" width="1" height="3" fill="#000"/>
<rect x="902" y="668" width="1" height="3" fill="#000"/>
<rect x="966" y="668" width="1" height="3" fill="#000"/>
<rect x="1030" y="668" width="1" height="3" fill="#000"/>
<rect x="1094" y="668" width="1" height="3" fill="#000"/>
<rect x="1158" y="668" width="1" height="3" fill="#000"/>
<rect x="1194" y="496" width="2" height="1" fill="#000"/>
<rect x="1194" y="433" width="2" height="1" fill="#000"/>
<rect x="1194" y="546" width="2" height="1" fill="#000"/>
<rect x="1194" y="550" width="2" height="1" fill="#000"/>
<rect x="1194" y="666" width="2" height="1" fill="#000"/>
</g>
<g style="filter:grayscale(1)">
<text x="1199.3" y="35" textLength="32.0" lengthAdjust="spacingAndGlyphs">137.150</text>
<text x="1199.3" y="68" textLength="32.0" lengthAdjust="spacingAndGlyphs">133.410</text>
<text x="1199.3" y="101" textLength="32.0" lengthAdjust="spacingAndGlyphs">129.670</text>
<text x="1199.3" y="134" textLength="32.0" lengthAdjust="spacingAndGlyphs">125.820</text>
<text x="1199.3" y="167" textLength="32.0" lengthAdjust="spacingAndGlyphs">122.080</text>
<text x="1199.3" y="200" textLength="32.0" lengthAdjust="spacingAndGlyphs">118.340</text>
<text x="1199.3" y="233" textLength="32.0" lengthAdjust="spacingAndGlyphs">114.490</text>
<text x="1199.3" y="266" textLength="32.0" lengthAdjust="spacingAndGlyphs">110.750</text>
<text x="1199.3" y="299" textLength="32.0" lengthAdjust="spacingAndGlyphs">106.900</text>
<text x="1199.3" y="332" textLength="32.0" lengthAdjust="spacingAndGlyphs">103.160</text>
<text x="1199.3" y="365" textLength="27.1" lengthAdjust="spacingAndGlyphs">99.420</text>
<text x="1199.3" y="398" textLength="27.1" lengthAdjust="spacingAndGlyphs">95.680</text>
<text x="1199.3" y="431" textLength="27.1" lengthAdjust="spacingAndGlyphs">91.940</text>
</g>
<g shape-rendering="crispEdges">
<rect x="1196" y="175" width="39" height="11" fill="#ff0000"/>
<rect x="1196" y="236" width="39" height="11" fill="#ff0000"/>
<rect x="1196" y="274" width="39" height="11" fill="#000000"/>
<rect x="1196" y="289" width="39" height="11" fill="#00d200"/>
<rect x="1196" y="337" width="39" height="11" fill="#4156e6"/>
<rect x="1196" y="385" width="34" height="11" fill="#4156e6"/>
</g>
<g style="filter:grayscale(1)">
<text x="1199.5" y="184" textLength="32.0" lengthAdjust="spacingAndGlyphs" class="w">120.000</text>
<text x="1199.5" y="245" textLength="32.0" lengthAdjust="spacingAndGlyphs" class="w">113.000</text>
<text x="1199.5" y="283" textLength="32.0" lengthAdjust="spacingAndGlyphs" class="w">108.865</text>
<text x="1199.5" y="298" textLength="32.0" lengthAdjust="spacingAndGlyphs" class="w">107.000</text>
<text x="1199.5" y="346" textLength="32.0" lengthAdjust="spacingAndGlyphs" class="w">101.500</text>
<text x="1199.5" y="394" textLength="27.1" lengthAdjust="spacingAndGlyphs" class="w">96.000</text>
<text x="1197" y="443" textLength="27.1" lengthAdjust="spacingAndGlyphs">6.1457</text>
<text x="1197" y="500" textLength="17.4" lengthAdjust="spacingAndGlyphs">0.00</text>
<text x="1197" y="543.8" textLength="30.4" lengthAdjust="spacingAndGlyphs">-4.9783</text>
<text x="1198" y="560" textLength="14.5" lengthAdjust="spacingAndGlyphs">100</text>
<text x="1196" y="589" textLength="9.7" lengthAdjust="spacingAndGlyphs">70</text>
<text x="1196" y="636" textLength="9.7" lengthAdjust="spacingAndGlyphs">30</text>
<text x="1197" y="664" textLength="4.8" lengthAdjust="spacingAndGlyphs">0</text>
<text x="4.5" y="680" textLength="51.5" lengthAdjust="spacingAndGlyphs">23 Feb 2022</text>
<text x="68.5" y="680" textLength="54.7" lengthAdjust="spacingAndGlyphs">25 Feb 01:00</text>
<text x="132.5" y="680" textLength="54.7" lengthAdjust="spacingAndGlyphs">28 Feb 04:00</text>
<text x="196.5" y="680" textLength="49.7" lengthAdjust="spacingAndGlyphs">1 Mar 13:00</text>
<text x="260.5" y="680" textLength="49.7" lengthAdjust="spacingAndGlyphs">2 Mar 21:00</text>
<text x="324.5" y="680" textLength="49.7" lengthAdjust="spacingAndGlyphs">4 Mar 05:00</text>
<text x="388.5" y="680" textLength="49.7" lengthAdjust="spacingAndGlyphs">7 Mar 08:00</text>
<text x="452.5" y="680" textLength="49.7" lengthAdjust="spacingAndGlyphs">8 Mar 17:00</text>
<text x="516.5" y="680" textLength="54.7" lengthAdjust="spacingAndGlyphs">10 Mar 01:00</text>
<text x="580.5" y="680" textLength="54.7" lengthAdjust="spacingAndGlyphs">11 Mar 09:00</text>
<text x="644.5" y="680" textLength="54.7" lengthAdjust="spacingAndGlyphs">14 Mar 12:00</text>
<text x="708.5" y="680" textLength="54.7" lengthAdjust="spacingAndGlyphs">15 Mar 20:00</text>
<text x="772.5" y="680" textLength="54.7" lengthAdjust="spacingAndGlyphs">17 Mar 04:00</text>
<text x="836.5" y="680" textLength="54.7" lengthAdjust="spacingAndGlyphs">18 Mar 12:00</text>
<text x="900.5" y="680" textLength="54.7" lengthAdjust="spacingAndGlyphs">22 Mar 00:00</text>
<text x="964.5" y="680" textLength="54.7" lengthAdjust="spacingAndGlyphs">23 Mar 08:00</text>
<text x="1028.5" y="680" textLength="54.7" lengthAdjust="spacingAndGlyphs">24 Mar 16:00</text>
<text x="1092.5" y="680" textLength="54.7" lengthAdjust="spacingAndGlyphs">28 Mar 00:00</text>
<text x="1156.5" y="680" textLength="54.7" lengthAdjust="spacingAndGlyphs">29 Mar 12:00</text>
<path d="M8.6 8.9 L16.2 8.9 L12.4 13.4 Z" fill="#000"/>
<text x="20.7" y="14" textLength="43" lengthAdjust="spacingAndGlyphs">UKOil-,H4</text>
<text x="70.8" y="14" textLength="31" lengthAdjust="spacingAndGlyphs">108.457</text>
<text x="106.8" y="14" textLength="31" lengthAdjust="spacingAndGlyphs">108.927</text>
<text x="142.8" y="14" textLength="31" lengthAdjust="spacingAndGlyphs">108.379</text>
<text x="178.8" y="14" textLength="31" lengthAdjust="spacingAndGlyphs">108.865</text>
<text x="9.5" y="445.3" textLength="134" lengthAdjust="spacingAndGlyphs">MACD(12,26,9) -2.2131 -0.9879</text>
<text x="9.5" y="562.3" textLength="68.3" lengthAdjust="spacingAndGlyphs">RSI(14) 38.8759</text>
</g>
<text x="665.3" y="108.5" class="cn">多空转折点</text>
<text x="838" y="108.5" class="cn" style="font-size:36px;font-weight:400;stroke:#fff;stroke-width:0.7px" textLength="56.7" lengthAdjust="spacingAndGlyphs">107</text>
</svg></body></html>
